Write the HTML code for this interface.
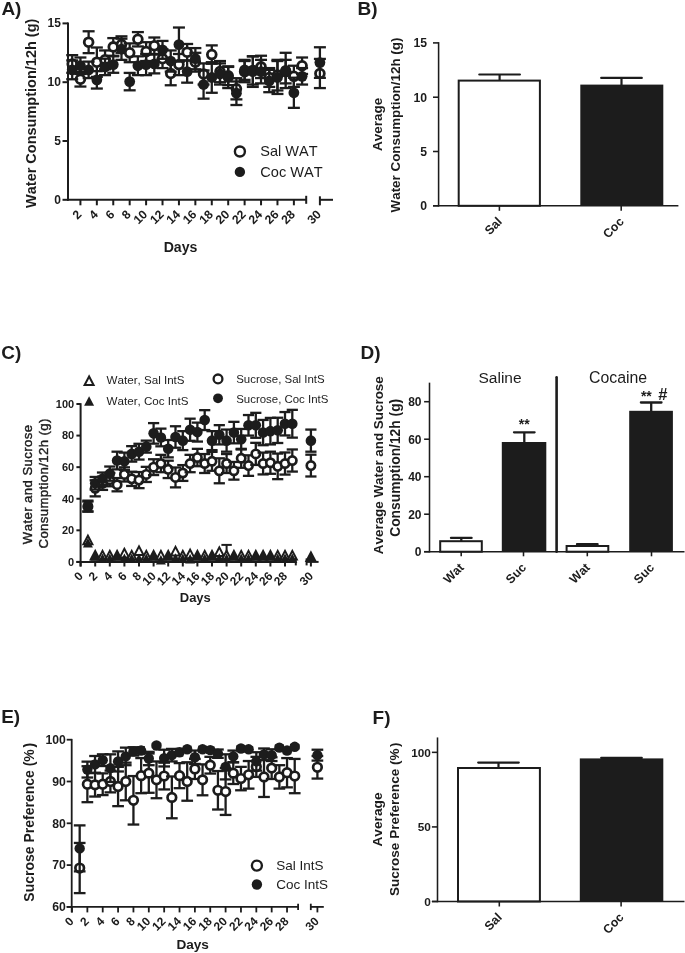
<!DOCTYPE html>
<html><head><meta charset="utf-8"><title>Figure</title>
<style>
html,body{margin:0;padding:0;background:#fff;}
svg{display:block;will-change:transform;}
text{font-family:"Liberation Sans",sans-serif;fill:#1c1c1c;font-kerning:none;}
</style></head>
<body>
<svg width="685" height="953" viewBox="0 0 685 953">
<rect x="0" y="0" width="685" height="953" fill="#ffffff"/>
<text x="1.40" y="14.90" font-size="19" font-weight="bold" text-anchor="start">A)</text>
<line x1="68.00" y1="22.60" x2="68.00" y2="200.80" stroke="#1c1c1c" stroke-width="2.0" stroke-linecap="butt"/>
<line x1="67.00" y1="199.80" x2="306.20" y2="199.80" stroke="#1c1c1c" stroke-width="2.0" stroke-linecap="butt"/>
<line x1="306.20" y1="195.80" x2="306.20" y2="203.80" stroke="#1c1c1c" stroke-width="2.0" stroke-linecap="butt"/>
<line x1="319.90" y1="199.80" x2="333.00" y2="199.80" stroke="#1c1c1c" stroke-width="2.0" stroke-linecap="butt"/>
<line x1="319.90" y1="196.30" x2="319.90" y2="205.30" stroke="#1c1c1c" stroke-width="2.0" stroke-linecap="butt"/>
<line x1="62.50" y1="199.80" x2="68.00" y2="199.80" stroke="#1c1c1c" stroke-width="2.0" stroke-linecap="butt"/>
<text x="60.90" y="203.70" font-size="12" font-weight="bold" text-anchor="end">0</text>
<line x1="62.50" y1="141.00" x2="68.00" y2="141.00" stroke="#1c1c1c" stroke-width="2.0" stroke-linecap="butt"/>
<text x="60.90" y="144.90" font-size="12" font-weight="bold" text-anchor="end">5</text>
<line x1="62.50" y1="82.20" x2="68.00" y2="82.20" stroke="#1c1c1c" stroke-width="2.0" stroke-linecap="butt"/>
<text x="60.90" y="86.10" font-size="12" font-weight="bold" text-anchor="end">10</text>
<line x1="62.50" y1="23.40" x2="68.00" y2="23.40" stroke="#1c1c1c" stroke-width="2.0" stroke-linecap="butt"/>
<text x="60.90" y="27.30" font-size="12" font-weight="bold" text-anchor="end">15</text>
<line x1="80.42" y1="199.80" x2="80.42" y2="205.30" stroke="#1c1c1c" stroke-width="2.0" stroke-linecap="butt"/>
<text x="82.42" y="215.10" font-size="12.2" font-weight="bold" text-anchor="end" transform="rotate(-45 82.42 215.10)">2</text>
<line x1="96.84" y1="199.80" x2="96.84" y2="205.30" stroke="#1c1c1c" stroke-width="2.0" stroke-linecap="butt"/>
<text x="98.84" y="215.10" font-size="12.2" font-weight="bold" text-anchor="end" transform="rotate(-45 98.84 215.10)">4</text>
<line x1="113.26" y1="199.80" x2="113.26" y2="205.30" stroke="#1c1c1c" stroke-width="2.0" stroke-linecap="butt"/>
<text x="115.26" y="215.10" font-size="12.2" font-weight="bold" text-anchor="end" transform="rotate(-45 115.26 215.10)">6</text>
<line x1="129.68" y1="199.80" x2="129.68" y2="205.30" stroke="#1c1c1c" stroke-width="2.0" stroke-linecap="butt"/>
<text x="131.68" y="215.10" font-size="12.2" font-weight="bold" text-anchor="end" transform="rotate(-45 131.68 215.10)">8</text>
<line x1="146.10" y1="199.80" x2="146.10" y2="205.30" stroke="#1c1c1c" stroke-width="2.0" stroke-linecap="butt"/>
<text x="148.10" y="215.10" font-size="12.2" font-weight="bold" text-anchor="end" transform="rotate(-45 148.10 215.10)">10</text>
<line x1="162.52" y1="199.80" x2="162.52" y2="205.30" stroke="#1c1c1c" stroke-width="2.0" stroke-linecap="butt"/>
<text x="164.52" y="215.10" font-size="12.2" font-weight="bold" text-anchor="end" transform="rotate(-45 164.52 215.10)">12</text>
<line x1="178.94" y1="199.80" x2="178.94" y2="205.30" stroke="#1c1c1c" stroke-width="2.0" stroke-linecap="butt"/>
<text x="180.94" y="215.10" font-size="12.2" font-weight="bold" text-anchor="end" transform="rotate(-45 180.94 215.10)">14</text>
<line x1="195.36" y1="199.80" x2="195.36" y2="205.30" stroke="#1c1c1c" stroke-width="2.0" stroke-linecap="butt"/>
<text x="197.36" y="215.10" font-size="12.2" font-weight="bold" text-anchor="end" transform="rotate(-45 197.36 215.10)">16</text>
<line x1="211.78" y1="199.80" x2="211.78" y2="205.30" stroke="#1c1c1c" stroke-width="2.0" stroke-linecap="butt"/>
<text x="213.78" y="215.10" font-size="12.2" font-weight="bold" text-anchor="end" transform="rotate(-45 213.78 215.10)">18</text>
<line x1="228.20" y1="199.80" x2="228.20" y2="205.30" stroke="#1c1c1c" stroke-width="2.0" stroke-linecap="butt"/>
<text x="230.20" y="215.10" font-size="12.2" font-weight="bold" text-anchor="end" transform="rotate(-45 230.20 215.10)">20</text>
<line x1="244.62" y1="199.80" x2="244.62" y2="205.30" stroke="#1c1c1c" stroke-width="2.0" stroke-linecap="butt"/>
<text x="246.62" y="215.10" font-size="12.2" font-weight="bold" text-anchor="end" transform="rotate(-45 246.62 215.10)">22</text>
<line x1="261.04" y1="199.80" x2="261.04" y2="205.30" stroke="#1c1c1c" stroke-width="2.0" stroke-linecap="butt"/>
<text x="263.04" y="215.10" font-size="12.2" font-weight="bold" text-anchor="end" transform="rotate(-45 263.04 215.10)">24</text>
<line x1="277.46" y1="199.80" x2="277.46" y2="205.30" stroke="#1c1c1c" stroke-width="2.0" stroke-linecap="butt"/>
<text x="279.46" y="215.10" font-size="12.2" font-weight="bold" text-anchor="end" transform="rotate(-45 279.46 215.10)">26</text>
<line x1="293.88" y1="199.80" x2="293.88" y2="205.30" stroke="#1c1c1c" stroke-width="2.0" stroke-linecap="butt"/>
<text x="295.88" y="215.10" font-size="12.2" font-weight="bold" text-anchor="end" transform="rotate(-45 295.88 215.10)">28</text>
<text x="321.90" y="215.10" font-size="12.2" font-weight="bold" text-anchor="end" transform="rotate(-45 321.90 215.10)">30</text>
<text x="180.50" y="251.60" font-size="14.1" font-weight="bold" text-anchor="middle">Days</text>
<text x="35.60" y="113.30" font-size="14.5" font-weight="bold" text-anchor="middle" transform="rotate(-90 35.60 113.30)">Water Consumption/12h (g)</text>
<line x1="72.21" y1="55.15" x2="72.21" y2="72.79" stroke="#1c1c1c" stroke-width="2.3" stroke-linecap="butt"/>
<line x1="66.21" y1="55.15" x2="78.21" y2="55.15" stroke="#1c1c1c" stroke-width="2.3" stroke-linecap="butt"/>
<line x1="66.21" y1="72.79" x2="78.21" y2="72.79" stroke="#1c1c1c" stroke-width="2.3" stroke-linecap="butt"/>
<circle cx="72.21" cy="63.97" r="4.4" fill="#fff" stroke="#1c1c1c" stroke-width="2.8"/>
<line x1="80.42" y1="71.97" x2="80.42" y2="86.55" stroke="#1c1c1c" stroke-width="2.3" stroke-linecap="butt"/>
<line x1="74.42" y1="71.97" x2="86.42" y2="71.97" stroke="#1c1c1c" stroke-width="2.3" stroke-linecap="butt"/>
<line x1="74.42" y1="86.55" x2="86.42" y2="86.55" stroke="#1c1c1c" stroke-width="2.3" stroke-linecap="butt"/>
<circle cx="80.42" cy="79.26" r="4.4" fill="#fff" stroke="#1c1c1c" stroke-width="2.8"/>
<line x1="88.63" y1="31.28" x2="88.63" y2="53.15" stroke="#1c1c1c" stroke-width="2.3" stroke-linecap="butt"/>
<line x1="82.63" y1="31.28" x2="94.63" y2="31.28" stroke="#1c1c1c" stroke-width="2.3" stroke-linecap="butt"/>
<line x1="82.63" y1="53.15" x2="94.63" y2="53.15" stroke="#1c1c1c" stroke-width="2.3" stroke-linecap="butt"/>
<circle cx="88.63" cy="42.22" r="4.4" fill="#fff" stroke="#1c1c1c" stroke-width="2.8"/>
<line x1="96.84" y1="47.51" x2="96.84" y2="76.91" stroke="#1c1c1c" stroke-width="2.3" stroke-linecap="butt"/>
<line x1="90.84" y1="47.51" x2="102.84" y2="47.51" stroke="#1c1c1c" stroke-width="2.3" stroke-linecap="butt"/>
<line x1="90.84" y1="76.91" x2="102.84" y2="76.91" stroke="#1c1c1c" stroke-width="2.3" stroke-linecap="butt"/>
<circle cx="96.84" cy="62.21" r="4.4" fill="#fff" stroke="#1c1c1c" stroke-width="2.8"/>
<line x1="105.05" y1="50.45" x2="105.05" y2="69.26" stroke="#1c1c1c" stroke-width="2.3" stroke-linecap="butt"/>
<line x1="99.05" y1="50.45" x2="111.05" y2="50.45" stroke="#1c1c1c" stroke-width="2.3" stroke-linecap="butt"/>
<line x1="99.05" y1="69.26" x2="111.05" y2="69.26" stroke="#1c1c1c" stroke-width="2.3" stroke-linecap="butt"/>
<circle cx="105.05" cy="59.86" r="4.4" fill="#fff" stroke="#1c1c1c" stroke-width="2.8"/>
<line x1="113.26" y1="38.10" x2="113.26" y2="55.74" stroke="#1c1c1c" stroke-width="2.3" stroke-linecap="butt"/>
<line x1="107.26" y1="38.10" x2="119.26" y2="38.10" stroke="#1c1c1c" stroke-width="2.3" stroke-linecap="butt"/>
<line x1="107.26" y1="55.74" x2="119.26" y2="55.74" stroke="#1c1c1c" stroke-width="2.3" stroke-linecap="butt"/>
<circle cx="113.26" cy="46.92" r="4.4" fill="#fff" stroke="#1c1c1c" stroke-width="2.8"/>
<line x1="121.47" y1="36.34" x2="121.47" y2="52.80" stroke="#1c1c1c" stroke-width="2.3" stroke-linecap="butt"/>
<line x1="115.47" y1="36.34" x2="127.47" y2="36.34" stroke="#1c1c1c" stroke-width="2.3" stroke-linecap="butt"/>
<line x1="115.47" y1="52.80" x2="127.47" y2="52.80" stroke="#1c1c1c" stroke-width="2.3" stroke-linecap="butt"/>
<circle cx="121.47" cy="44.57" r="4.4" fill="#fff" stroke="#1c1c1c" stroke-width="2.8"/>
<line x1="129.68" y1="43.39" x2="129.68" y2="62.21" stroke="#1c1c1c" stroke-width="2.3" stroke-linecap="butt"/>
<line x1="123.68" y1="43.39" x2="135.68" y2="43.39" stroke="#1c1c1c" stroke-width="2.3" stroke-linecap="butt"/>
<line x1="123.68" y1="62.21" x2="135.68" y2="62.21" stroke="#1c1c1c" stroke-width="2.3" stroke-linecap="butt"/>
<circle cx="129.68" cy="52.80" r="4.4" fill="#fff" stroke="#1c1c1c" stroke-width="2.8"/>
<line x1="137.89" y1="32.10" x2="137.89" y2="46.45" stroke="#1c1c1c" stroke-width="2.3" stroke-linecap="butt"/>
<line x1="131.89" y1="32.10" x2="143.89" y2="32.10" stroke="#1c1c1c" stroke-width="2.3" stroke-linecap="butt"/>
<line x1="131.89" y1="46.45" x2="143.89" y2="46.45" stroke="#1c1c1c" stroke-width="2.3" stroke-linecap="butt"/>
<circle cx="137.89" cy="39.28" r="4.4" fill="#fff" stroke="#1c1c1c" stroke-width="2.8"/>
<line x1="146.10" y1="42.22" x2="146.10" y2="61.03" stroke="#1c1c1c" stroke-width="2.3" stroke-linecap="butt"/>
<line x1="140.10" y1="42.22" x2="152.10" y2="42.22" stroke="#1c1c1c" stroke-width="2.3" stroke-linecap="butt"/>
<line x1="140.10" y1="61.03" x2="152.10" y2="61.03" stroke="#1c1c1c" stroke-width="2.3" stroke-linecap="butt"/>
<circle cx="146.10" cy="51.62" r="4.4" fill="#fff" stroke="#1c1c1c" stroke-width="2.8"/>
<line x1="154.31" y1="37.51" x2="154.31" y2="53.98" stroke="#1c1c1c" stroke-width="2.3" stroke-linecap="butt"/>
<line x1="148.31" y1="37.51" x2="160.31" y2="37.51" stroke="#1c1c1c" stroke-width="2.3" stroke-linecap="butt"/>
<line x1="148.31" y1="53.98" x2="160.31" y2="53.98" stroke="#1c1c1c" stroke-width="2.3" stroke-linecap="butt"/>
<circle cx="154.31" cy="45.74" r="4.4" fill="#fff" stroke="#1c1c1c" stroke-width="2.8"/>
<line x1="162.52" y1="49.27" x2="162.52" y2="68.09" stroke="#1c1c1c" stroke-width="2.3" stroke-linecap="butt"/>
<line x1="156.52" y1="49.27" x2="168.52" y2="49.27" stroke="#1c1c1c" stroke-width="2.3" stroke-linecap="butt"/>
<line x1="156.52" y1="68.09" x2="168.52" y2="68.09" stroke="#1c1c1c" stroke-width="2.3" stroke-linecap="butt"/>
<circle cx="162.52" cy="58.68" r="4.4" fill="#fff" stroke="#1c1c1c" stroke-width="2.8"/>
<line x1="170.73" y1="61.74" x2="170.73" y2="85.26" stroke="#1c1c1c" stroke-width="2.3" stroke-linecap="butt"/>
<line x1="164.73" y1="61.74" x2="176.73" y2="61.74" stroke="#1c1c1c" stroke-width="2.3" stroke-linecap="butt"/>
<line x1="164.73" y1="85.26" x2="176.73" y2="85.26" stroke="#1c1c1c" stroke-width="2.3" stroke-linecap="butt"/>
<circle cx="170.73" cy="73.50" r="4.4" fill="#fff" stroke="#1c1c1c" stroke-width="2.8"/>
<line x1="178.94" y1="53.98" x2="178.94" y2="75.14" stroke="#1c1c1c" stroke-width="2.3" stroke-linecap="butt"/>
<line x1="172.94" y1="53.98" x2="184.94" y2="53.98" stroke="#1c1c1c" stroke-width="2.3" stroke-linecap="butt"/>
<line x1="172.94" y1="75.14" x2="184.94" y2="75.14" stroke="#1c1c1c" stroke-width="2.3" stroke-linecap="butt"/>
<circle cx="178.94" cy="64.56" r="4.4" fill="#fff" stroke="#1c1c1c" stroke-width="2.8"/>
<line x1="187.15" y1="43.98" x2="187.15" y2="60.44" stroke="#1c1c1c" stroke-width="2.3" stroke-linecap="butt"/>
<line x1="181.15" y1="43.98" x2="193.15" y2="43.98" stroke="#1c1c1c" stroke-width="2.3" stroke-linecap="butt"/>
<line x1="181.15" y1="60.44" x2="193.15" y2="60.44" stroke="#1c1c1c" stroke-width="2.3" stroke-linecap="butt"/>
<circle cx="187.15" cy="52.21" r="4.4" fill="#fff" stroke="#1c1c1c" stroke-width="2.8"/>
<line x1="195.36" y1="52.80" x2="195.36" y2="71.62" stroke="#1c1c1c" stroke-width="2.3" stroke-linecap="butt"/>
<line x1="189.36" y1="52.80" x2="201.36" y2="52.80" stroke="#1c1c1c" stroke-width="2.3" stroke-linecap="butt"/>
<line x1="189.36" y1="71.62" x2="201.36" y2="71.62" stroke="#1c1c1c" stroke-width="2.3" stroke-linecap="butt"/>
<circle cx="195.36" cy="62.21" r="4.4" fill="#fff" stroke="#1c1c1c" stroke-width="2.8"/>
<line x1="203.57" y1="63.38" x2="203.57" y2="84.55" stroke="#1c1c1c" stroke-width="2.3" stroke-linecap="butt"/>
<line x1="197.57" y1="63.38" x2="209.57" y2="63.38" stroke="#1c1c1c" stroke-width="2.3" stroke-linecap="butt"/>
<line x1="197.57" y1="84.55" x2="209.57" y2="84.55" stroke="#1c1c1c" stroke-width="2.3" stroke-linecap="butt"/>
<circle cx="203.57" cy="73.97" r="4.4" fill="#fff" stroke="#1c1c1c" stroke-width="2.8"/>
<line x1="211.78" y1="45.39" x2="211.78" y2="63.74" stroke="#1c1c1c" stroke-width="2.3" stroke-linecap="butt"/>
<line x1="205.78" y1="45.39" x2="217.78" y2="45.39" stroke="#1c1c1c" stroke-width="2.3" stroke-linecap="butt"/>
<line x1="205.78" y1="63.74" x2="217.78" y2="63.74" stroke="#1c1c1c" stroke-width="2.3" stroke-linecap="butt"/>
<circle cx="211.78" cy="54.56" r="4.4" fill="#fff" stroke="#1c1c1c" stroke-width="2.8"/>
<line x1="219.99" y1="61.03" x2="219.99" y2="82.20" stroke="#1c1c1c" stroke-width="2.3" stroke-linecap="butt"/>
<line x1="213.99" y1="61.03" x2="225.99" y2="61.03" stroke="#1c1c1c" stroke-width="2.3" stroke-linecap="butt"/>
<line x1="213.99" y1="82.20" x2="225.99" y2="82.20" stroke="#1c1c1c" stroke-width="2.3" stroke-linecap="butt"/>
<circle cx="219.99" cy="71.62" r="4.4" fill="#fff" stroke="#1c1c1c" stroke-width="2.8"/>
<line x1="228.20" y1="66.32" x2="228.20" y2="85.14" stroke="#1c1c1c" stroke-width="2.3" stroke-linecap="butt"/>
<line x1="222.20" y1="66.32" x2="234.20" y2="66.32" stroke="#1c1c1c" stroke-width="2.3" stroke-linecap="butt"/>
<line x1="222.20" y1="85.14" x2="234.20" y2="85.14" stroke="#1c1c1c" stroke-width="2.3" stroke-linecap="butt"/>
<circle cx="228.20" cy="75.73" r="4.4" fill="#fff" stroke="#1c1c1c" stroke-width="2.8"/>
<line x1="236.41" y1="78.20" x2="236.41" y2="99.37" stroke="#1c1c1c" stroke-width="2.3" stroke-linecap="butt"/>
<line x1="230.41" y1="78.20" x2="242.41" y2="78.20" stroke="#1c1c1c" stroke-width="2.3" stroke-linecap="butt"/>
<line x1="230.41" y1="99.37" x2="242.41" y2="99.37" stroke="#1c1c1c" stroke-width="2.3" stroke-linecap="butt"/>
<circle cx="236.41" cy="88.79" r="4.4" fill="#fff" stroke="#1c1c1c" stroke-width="2.8"/>
<line x1="244.62" y1="61.03" x2="244.62" y2="82.20" stroke="#1c1c1c" stroke-width="2.3" stroke-linecap="butt"/>
<line x1="238.62" y1="61.03" x2="250.62" y2="61.03" stroke="#1c1c1c" stroke-width="2.3" stroke-linecap="butt"/>
<line x1="238.62" y1="82.20" x2="250.62" y2="82.20" stroke="#1c1c1c" stroke-width="2.3" stroke-linecap="butt"/>
<circle cx="244.62" cy="71.62" r="4.4" fill="#fff" stroke="#1c1c1c" stroke-width="2.8"/>
<line x1="252.83" y1="56.33" x2="252.83" y2="84.55" stroke="#1c1c1c" stroke-width="2.3" stroke-linecap="butt"/>
<line x1="246.83" y1="56.33" x2="258.83" y2="56.33" stroke="#1c1c1c" stroke-width="2.3" stroke-linecap="butt"/>
<line x1="246.83" y1="84.55" x2="258.83" y2="84.55" stroke="#1c1c1c" stroke-width="2.3" stroke-linecap="butt"/>
<circle cx="252.83" cy="70.44" r="4.4" fill="#fff" stroke="#1c1c1c" stroke-width="2.8"/>
<line x1="261.04" y1="55.74" x2="261.04" y2="78.08" stroke="#1c1c1c" stroke-width="2.3" stroke-linecap="butt"/>
<line x1="255.04" y1="55.74" x2="267.04" y2="55.74" stroke="#1c1c1c" stroke-width="2.3" stroke-linecap="butt"/>
<line x1="255.04" y1="78.08" x2="267.04" y2="78.08" stroke="#1c1c1c" stroke-width="2.3" stroke-linecap="butt"/>
<circle cx="261.04" cy="66.91" r="4.4" fill="#fff" stroke="#1c1c1c" stroke-width="2.8"/>
<line x1="269.25" y1="68.09" x2="269.25" y2="86.90" stroke="#1c1c1c" stroke-width="2.3" stroke-linecap="butt"/>
<line x1="263.25" y1="68.09" x2="275.25" y2="68.09" stroke="#1c1c1c" stroke-width="2.3" stroke-linecap="butt"/>
<line x1="263.25" y1="86.90" x2="275.25" y2="86.90" stroke="#1c1c1c" stroke-width="2.3" stroke-linecap="butt"/>
<circle cx="269.25" cy="77.50" r="4.4" fill="#fff" stroke="#1c1c1c" stroke-width="2.8"/>
<line x1="277.46" y1="59.86" x2="277.46" y2="90.43" stroke="#1c1c1c" stroke-width="2.3" stroke-linecap="butt"/>
<line x1="271.46" y1="59.86" x2="283.46" y2="59.86" stroke="#1c1c1c" stroke-width="2.3" stroke-linecap="butt"/>
<line x1="271.46" y1="90.43" x2="283.46" y2="90.43" stroke="#1c1c1c" stroke-width="2.3" stroke-linecap="butt"/>
<circle cx="277.46" cy="75.14" r="4.4" fill="#fff" stroke="#1c1c1c" stroke-width="2.8"/>
<line x1="285.67" y1="59.86" x2="285.67" y2="83.38" stroke="#1c1c1c" stroke-width="2.3" stroke-linecap="butt"/>
<line x1="279.67" y1="59.86" x2="291.67" y2="59.86" stroke="#1c1c1c" stroke-width="2.3" stroke-linecap="butt"/>
<line x1="279.67" y1="83.38" x2="291.67" y2="83.38" stroke="#1c1c1c" stroke-width="2.3" stroke-linecap="butt"/>
<circle cx="285.67" cy="71.62" r="4.4" fill="#fff" stroke="#1c1c1c" stroke-width="2.8"/>
<line x1="293.88" y1="65.74" x2="293.88" y2="86.90" stroke="#1c1c1c" stroke-width="2.3" stroke-linecap="butt"/>
<line x1="287.88" y1="65.74" x2="299.88" y2="65.74" stroke="#1c1c1c" stroke-width="2.3" stroke-linecap="butt"/>
<line x1="287.88" y1="86.90" x2="299.88" y2="86.90" stroke="#1c1c1c" stroke-width="2.3" stroke-linecap="butt"/>
<circle cx="293.88" cy="76.32" r="4.4" fill="#fff" stroke="#1c1c1c" stroke-width="2.8"/>
<line x1="302.09" y1="57.50" x2="302.09" y2="73.97" stroke="#1c1c1c" stroke-width="2.3" stroke-linecap="butt"/>
<line x1="296.09" y1="57.50" x2="308.09" y2="57.50" stroke="#1c1c1c" stroke-width="2.3" stroke-linecap="butt"/>
<line x1="296.09" y1="73.97" x2="308.09" y2="73.97" stroke="#1c1c1c" stroke-width="2.3" stroke-linecap="butt"/>
<circle cx="302.09" cy="65.74" r="4.4" fill="#fff" stroke="#1c1c1c" stroke-width="2.8"/>
<line x1="319.90" y1="58.92" x2="319.90" y2="88.08" stroke="#1c1c1c" stroke-width="2.3" stroke-linecap="butt"/>
<line x1="313.90" y1="58.92" x2="325.90" y2="58.92" stroke="#1c1c1c" stroke-width="2.3" stroke-linecap="butt"/>
<line x1="313.90" y1="88.08" x2="325.90" y2="88.08" stroke="#1c1c1c" stroke-width="2.3" stroke-linecap="butt"/>
<circle cx="319.90" cy="73.50" r="4.4" fill="#fff" stroke="#1c1c1c" stroke-width="2.8"/>
<line x1="72.21" y1="60.44" x2="72.21" y2="79.26" stroke="#1c1c1c" stroke-width="2.3" stroke-linecap="butt"/>
<line x1="66.21" y1="60.44" x2="78.21" y2="60.44" stroke="#1c1c1c" stroke-width="2.3" stroke-linecap="butt"/>
<line x1="66.21" y1="79.26" x2="78.21" y2="79.26" stroke="#1c1c1c" stroke-width="2.3" stroke-linecap="butt"/>
<circle cx="72.21" cy="69.85" r="5.4" fill="#1c1c1c"/>
<line x1="80.42" y1="57.50" x2="80.42" y2="73.97" stroke="#1c1c1c" stroke-width="2.3" stroke-linecap="butt"/>
<line x1="74.42" y1="57.50" x2="86.42" y2="57.50" stroke="#1c1c1c" stroke-width="2.3" stroke-linecap="butt"/>
<line x1="74.42" y1="73.97" x2="86.42" y2="73.97" stroke="#1c1c1c" stroke-width="2.3" stroke-linecap="butt"/>
<circle cx="80.42" cy="65.74" r="5.4" fill="#1c1c1c"/>
<line x1="88.63" y1="61.62" x2="88.63" y2="78.08" stroke="#1c1c1c" stroke-width="2.3" stroke-linecap="butt"/>
<line x1="82.63" y1="61.62" x2="94.63" y2="61.62" stroke="#1c1c1c" stroke-width="2.3" stroke-linecap="butt"/>
<line x1="82.63" y1="78.08" x2="94.63" y2="78.08" stroke="#1c1c1c" stroke-width="2.3" stroke-linecap="butt"/>
<circle cx="88.63" cy="69.85" r="5.4" fill="#1c1c1c"/>
<line x1="96.84" y1="71.15" x2="96.84" y2="88.55" stroke="#1c1c1c" stroke-width="2.3" stroke-linecap="butt"/>
<line x1="90.84" y1="71.15" x2="102.84" y2="71.15" stroke="#1c1c1c" stroke-width="2.3" stroke-linecap="butt"/>
<line x1="90.84" y1="88.55" x2="102.84" y2="88.55" stroke="#1c1c1c" stroke-width="2.3" stroke-linecap="butt"/>
<circle cx="96.84" cy="79.85" r="5.4" fill="#1c1c1c"/>
<line x1="105.05" y1="58.68" x2="105.05" y2="75.14" stroke="#1c1c1c" stroke-width="2.3" stroke-linecap="butt"/>
<line x1="99.05" y1="58.68" x2="111.05" y2="58.68" stroke="#1c1c1c" stroke-width="2.3" stroke-linecap="butt"/>
<line x1="99.05" y1="75.14" x2="111.05" y2="75.14" stroke="#1c1c1c" stroke-width="2.3" stroke-linecap="butt"/>
<circle cx="105.05" cy="66.91" r="5.4" fill="#1c1c1c"/>
<line x1="113.26" y1="56.33" x2="113.26" y2="72.79" stroke="#1c1c1c" stroke-width="2.3" stroke-linecap="butt"/>
<line x1="107.26" y1="56.33" x2="119.26" y2="56.33" stroke="#1c1c1c" stroke-width="2.3" stroke-linecap="butt"/>
<line x1="107.26" y1="72.79" x2="119.26" y2="72.79" stroke="#1c1c1c" stroke-width="2.3" stroke-linecap="butt"/>
<circle cx="113.26" cy="64.56" r="5.4" fill="#1c1c1c"/>
<line x1="121.47" y1="38.69" x2="121.47" y2="59.86" stroke="#1c1c1c" stroke-width="2.3" stroke-linecap="butt"/>
<line x1="115.47" y1="38.69" x2="127.47" y2="38.69" stroke="#1c1c1c" stroke-width="2.3" stroke-linecap="butt"/>
<line x1="115.47" y1="59.86" x2="127.47" y2="59.86" stroke="#1c1c1c" stroke-width="2.3" stroke-linecap="butt"/>
<circle cx="121.47" cy="49.27" r="5.4" fill="#1c1c1c"/>
<line x1="129.68" y1="72.91" x2="129.68" y2="90.31" stroke="#1c1c1c" stroke-width="2.3" stroke-linecap="butt"/>
<line x1="123.68" y1="72.91" x2="135.68" y2="72.91" stroke="#1c1c1c" stroke-width="2.3" stroke-linecap="butt"/>
<line x1="123.68" y1="90.31" x2="135.68" y2="90.31" stroke="#1c1c1c" stroke-width="2.3" stroke-linecap="butt"/>
<circle cx="129.68" cy="81.61" r="5.4" fill="#1c1c1c"/>
<line x1="137.89" y1="56.33" x2="137.89" y2="75.14" stroke="#1c1c1c" stroke-width="2.3" stroke-linecap="butt"/>
<line x1="131.89" y1="56.33" x2="143.89" y2="56.33" stroke="#1c1c1c" stroke-width="2.3" stroke-linecap="butt"/>
<line x1="131.89" y1="75.14" x2="143.89" y2="75.14" stroke="#1c1c1c" stroke-width="2.3" stroke-linecap="butt"/>
<circle cx="137.89" cy="65.74" r="5.4" fill="#1c1c1c"/>
<line x1="146.10" y1="53.98" x2="146.10" y2="75.14" stroke="#1c1c1c" stroke-width="2.3" stroke-linecap="butt"/>
<line x1="140.10" y1="53.98" x2="152.10" y2="53.98" stroke="#1c1c1c" stroke-width="2.3" stroke-linecap="butt"/>
<line x1="140.10" y1="75.14" x2="152.10" y2="75.14" stroke="#1c1c1c" stroke-width="2.3" stroke-linecap="butt"/>
<circle cx="146.10" cy="64.56" r="5.4" fill="#1c1c1c"/>
<line x1="154.31" y1="54.56" x2="154.31" y2="73.38" stroke="#1c1c1c" stroke-width="2.3" stroke-linecap="butt"/>
<line x1="148.31" y1="54.56" x2="160.31" y2="54.56" stroke="#1c1c1c" stroke-width="2.3" stroke-linecap="butt"/>
<line x1="148.31" y1="73.38" x2="160.31" y2="73.38" stroke="#1c1c1c" stroke-width="2.3" stroke-linecap="butt"/>
<circle cx="154.31" cy="63.97" r="5.4" fill="#1c1c1c"/>
<line x1="162.52" y1="40.92" x2="162.52" y2="58.80" stroke="#1c1c1c" stroke-width="2.3" stroke-linecap="butt"/>
<line x1="156.52" y1="40.92" x2="168.52" y2="40.92" stroke="#1c1c1c" stroke-width="2.3" stroke-linecap="butt"/>
<line x1="156.52" y1="58.80" x2="168.52" y2="58.80" stroke="#1c1c1c" stroke-width="2.3" stroke-linecap="butt"/>
<circle cx="162.52" cy="49.86" r="5.4" fill="#1c1c1c"/>
<line x1="170.73" y1="50.45" x2="170.73" y2="71.62" stroke="#1c1c1c" stroke-width="2.3" stroke-linecap="butt"/>
<line x1="164.73" y1="50.45" x2="176.73" y2="50.45" stroke="#1c1c1c" stroke-width="2.3" stroke-linecap="butt"/>
<line x1="164.73" y1="71.62" x2="176.73" y2="71.62" stroke="#1c1c1c" stroke-width="2.3" stroke-linecap="butt"/>
<circle cx="170.73" cy="61.03" r="5.4" fill="#1c1c1c"/>
<line x1="178.94" y1="27.52" x2="178.94" y2="61.62" stroke="#1c1c1c" stroke-width="2.3" stroke-linecap="butt"/>
<line x1="172.94" y1="27.52" x2="184.94" y2="27.52" stroke="#1c1c1c" stroke-width="2.3" stroke-linecap="butt"/>
<line x1="172.94" y1="61.62" x2="184.94" y2="61.62" stroke="#1c1c1c" stroke-width="2.3" stroke-linecap="butt"/>
<circle cx="178.94" cy="44.57" r="5.4" fill="#1c1c1c"/>
<line x1="187.15" y1="60.56" x2="187.15" y2="82.67" stroke="#1c1c1c" stroke-width="2.3" stroke-linecap="butt"/>
<line x1="181.15" y1="60.56" x2="193.15" y2="60.56" stroke="#1c1c1c" stroke-width="2.3" stroke-linecap="butt"/>
<line x1="181.15" y1="82.67" x2="193.15" y2="82.67" stroke="#1c1c1c" stroke-width="2.3" stroke-linecap="butt"/>
<circle cx="187.15" cy="71.62" r="5.4" fill="#1c1c1c"/>
<line x1="195.36" y1="48.10" x2="195.36" y2="69.26" stroke="#1c1c1c" stroke-width="2.3" stroke-linecap="butt"/>
<line x1="189.36" y1="48.10" x2="201.36" y2="48.10" stroke="#1c1c1c" stroke-width="2.3" stroke-linecap="butt"/>
<line x1="189.36" y1="69.26" x2="201.36" y2="69.26" stroke="#1c1c1c" stroke-width="2.3" stroke-linecap="butt"/>
<circle cx="195.36" cy="58.68" r="5.4" fill="#1c1c1c"/>
<line x1="203.57" y1="70.44" x2="203.57" y2="98.66" stroke="#1c1c1c" stroke-width="2.3" stroke-linecap="butt"/>
<line x1="197.57" y1="70.44" x2="209.57" y2="70.44" stroke="#1c1c1c" stroke-width="2.3" stroke-linecap="butt"/>
<line x1="197.57" y1="98.66" x2="209.57" y2="98.66" stroke="#1c1c1c" stroke-width="2.3" stroke-linecap="butt"/>
<circle cx="203.57" cy="84.55" r="5.4" fill="#1c1c1c"/>
<line x1="211.78" y1="62.21" x2="211.78" y2="92.78" stroke="#1c1c1c" stroke-width="2.3" stroke-linecap="butt"/>
<line x1="205.78" y1="62.21" x2="217.78" y2="62.21" stroke="#1c1c1c" stroke-width="2.3" stroke-linecap="butt"/>
<line x1="205.78" y1="92.78" x2="217.78" y2="92.78" stroke="#1c1c1c" stroke-width="2.3" stroke-linecap="butt"/>
<circle cx="211.78" cy="77.50" r="5.4" fill="#1c1c1c"/>
<line x1="219.99" y1="63.38" x2="219.99" y2="84.55" stroke="#1c1c1c" stroke-width="2.3" stroke-linecap="butt"/>
<line x1="213.99" y1="63.38" x2="225.99" y2="63.38" stroke="#1c1c1c" stroke-width="2.3" stroke-linecap="butt"/>
<line x1="213.99" y1="84.55" x2="225.99" y2="84.55" stroke="#1c1c1c" stroke-width="2.3" stroke-linecap="butt"/>
<circle cx="219.99" cy="73.97" r="5.4" fill="#1c1c1c"/>
<line x1="228.20" y1="66.91" x2="228.20" y2="88.08" stroke="#1c1c1c" stroke-width="2.3" stroke-linecap="butt"/>
<line x1="222.20" y1="66.91" x2="234.20" y2="66.91" stroke="#1c1c1c" stroke-width="2.3" stroke-linecap="butt"/>
<line x1="222.20" y1="88.08" x2="234.20" y2="88.08" stroke="#1c1c1c" stroke-width="2.3" stroke-linecap="butt"/>
<circle cx="228.20" cy="77.50" r="5.4" fill="#1c1c1c"/>
<line x1="236.41" y1="81.49" x2="236.41" y2="105.01" stroke="#1c1c1c" stroke-width="2.3" stroke-linecap="butt"/>
<line x1="230.41" y1="81.49" x2="242.41" y2="81.49" stroke="#1c1c1c" stroke-width="2.3" stroke-linecap="butt"/>
<line x1="230.41" y1="105.01" x2="242.41" y2="105.01" stroke="#1c1c1c" stroke-width="2.3" stroke-linecap="butt"/>
<circle cx="236.41" cy="93.25" r="5.4" fill="#1c1c1c"/>
<line x1="244.62" y1="59.86" x2="244.62" y2="79.85" stroke="#1c1c1c" stroke-width="2.3" stroke-linecap="butt"/>
<line x1="238.62" y1="59.86" x2="250.62" y2="59.86" stroke="#1c1c1c" stroke-width="2.3" stroke-linecap="butt"/>
<line x1="238.62" y1="79.85" x2="250.62" y2="79.85" stroke="#1c1c1c" stroke-width="2.3" stroke-linecap="butt"/>
<circle cx="244.62" cy="69.85" r="5.4" fill="#1c1c1c"/>
<line x1="252.83" y1="56.33" x2="252.83" y2="86.90" stroke="#1c1c1c" stroke-width="2.3" stroke-linecap="butt"/>
<line x1="246.83" y1="56.33" x2="258.83" y2="56.33" stroke="#1c1c1c" stroke-width="2.3" stroke-linecap="butt"/>
<line x1="246.83" y1="86.90" x2="258.83" y2="86.90" stroke="#1c1c1c" stroke-width="2.3" stroke-linecap="butt"/>
<circle cx="252.83" cy="71.62" r="5.4" fill="#1c1c1c"/>
<line x1="261.04" y1="59.86" x2="261.04" y2="83.38" stroke="#1c1c1c" stroke-width="2.3" stroke-linecap="butt"/>
<line x1="255.04" y1="59.86" x2="267.04" y2="59.86" stroke="#1c1c1c" stroke-width="2.3" stroke-linecap="butt"/>
<line x1="255.04" y1="83.38" x2="267.04" y2="83.38" stroke="#1c1c1c" stroke-width="2.3" stroke-linecap="butt"/>
<circle cx="261.04" cy="71.62" r="5.4" fill="#1c1c1c"/>
<line x1="269.25" y1="69.85" x2="269.25" y2="92.20" stroke="#1c1c1c" stroke-width="2.3" stroke-linecap="butt"/>
<line x1="263.25" y1="69.85" x2="275.25" y2="69.85" stroke="#1c1c1c" stroke-width="2.3" stroke-linecap="butt"/>
<line x1="263.25" y1="92.20" x2="275.25" y2="92.20" stroke="#1c1c1c" stroke-width="2.3" stroke-linecap="butt"/>
<circle cx="269.25" cy="81.02" r="5.4" fill="#1c1c1c"/>
<line x1="277.46" y1="61.03" x2="277.46" y2="93.96" stroke="#1c1c1c" stroke-width="2.3" stroke-linecap="butt"/>
<line x1="271.46" y1="61.03" x2="283.46" y2="61.03" stroke="#1c1c1c" stroke-width="2.3" stroke-linecap="butt"/>
<line x1="271.46" y1="93.96" x2="283.46" y2="93.96" stroke="#1c1c1c" stroke-width="2.3" stroke-linecap="butt"/>
<circle cx="277.46" cy="77.50" r="5.4" fill="#1c1c1c"/>
<line x1="285.67" y1="52.80" x2="285.67" y2="88.08" stroke="#1c1c1c" stroke-width="2.3" stroke-linecap="butt"/>
<line x1="279.67" y1="52.80" x2="291.67" y2="52.80" stroke="#1c1c1c" stroke-width="2.3" stroke-linecap="butt"/>
<line x1="279.67" y1="88.08" x2="291.67" y2="88.08" stroke="#1c1c1c" stroke-width="2.3" stroke-linecap="butt"/>
<circle cx="285.67" cy="70.44" r="5.4" fill="#1c1c1c"/>
<line x1="293.88" y1="77.73" x2="293.88" y2="107.84" stroke="#1c1c1c" stroke-width="2.3" stroke-linecap="butt"/>
<line x1="287.88" y1="77.73" x2="299.88" y2="77.73" stroke="#1c1c1c" stroke-width="2.3" stroke-linecap="butt"/>
<line x1="287.88" y1="107.84" x2="299.88" y2="107.84" stroke="#1c1c1c" stroke-width="2.3" stroke-linecap="butt"/>
<circle cx="293.88" cy="92.78" r="5.4" fill="#1c1c1c"/>
<line x1="302.09" y1="68.09" x2="302.09" y2="84.55" stroke="#1c1c1c" stroke-width="2.3" stroke-linecap="butt"/>
<line x1="296.09" y1="68.09" x2="308.09" y2="68.09" stroke="#1c1c1c" stroke-width="2.3" stroke-linecap="butt"/>
<line x1="296.09" y1="84.55" x2="308.09" y2="84.55" stroke="#1c1c1c" stroke-width="2.3" stroke-linecap="butt"/>
<circle cx="302.09" cy="76.32" r="5.4" fill="#1c1c1c"/>
<line x1="319.90" y1="47.27" x2="319.90" y2="77.85" stroke="#1c1c1c" stroke-width="2.3" stroke-linecap="butt"/>
<line x1="313.90" y1="47.27" x2="325.90" y2="47.27" stroke="#1c1c1c" stroke-width="2.3" stroke-linecap="butt"/>
<line x1="313.90" y1="77.85" x2="325.90" y2="77.85" stroke="#1c1c1c" stroke-width="2.3" stroke-linecap="butt"/>
<circle cx="319.90" cy="62.56" r="5.4" fill="#1c1c1c"/>
<circle cx="239.90" cy="151.50" r="5.0" fill="#fff" stroke="#1c1c1c" stroke-width="2.4"/>
<circle cx="239.90" cy="171.90" r="5.2" fill="#1c1c1c"/>
<text x="260.30" y="156.40" font-size="14.5" font-weight="normal" text-anchor="start">Sal WAT</text>
<text x="260.30" y="176.80" font-size="14.6" font-weight="normal" text-anchor="start">Coc WAT</text>
<text x="357.50" y="15.00" font-size="19" font-weight="bold" text-anchor="start">B)</text>
<line x1="499.60" y1="74.50" x2="499.60" y2="81.60" stroke="#1c1c1c" stroke-width="2.2" stroke-linecap="butt"/>
<line x1="479.30" y1="74.50" x2="519.90" y2="74.50" stroke="#1c1c1c" stroke-width="2.2" stroke-linecap="round"/>
<rect x="458.70" y="80.60" width="81.20" height="125.20" fill="#fff" stroke="#1c1c1c" stroke-width="2.0"/>
<line x1="621.50" y1="77.90" x2="621.50" y2="86.00" stroke="#1c1c1c" stroke-width="2.2" stroke-linecap="butt"/>
<line x1="601.20" y1="77.90" x2="641.80" y2="77.90" stroke="#1c1c1c" stroke-width="2.2" stroke-linecap="round"/>
<rect x="580.30" y="84.60" width="83.00" height="121.20" fill="#1c1c1c"/>
<line x1="438.60" y1="42.13" x2="438.60" y2="206.58" stroke="#1c1c1c" stroke-width="1.55" stroke-linecap="butt"/>
<line x1="433.00" y1="205.80" x2="678.40" y2="205.80" stroke="#1c1c1c" stroke-width="1.55" stroke-linecap="butt"/>
<line x1="433.00" y1="205.80" x2="438.60" y2="205.80" stroke="#1c1c1c" stroke-width="1.55" stroke-linecap="butt"/>
<text x="427.00" y="210.10" font-size="12.2" font-weight="bold" text-anchor="end">0</text>
<line x1="433.00" y1="151.50" x2="438.60" y2="151.50" stroke="#1c1c1c" stroke-width="1.55" stroke-linecap="butt"/>
<text x="427.00" y="155.80" font-size="12.2" font-weight="bold" text-anchor="end">5</text>
<line x1="433.00" y1="97.20" x2="438.60" y2="97.20" stroke="#1c1c1c" stroke-width="1.55" stroke-linecap="butt"/>
<text x="427.00" y="101.50" font-size="12.2" font-weight="bold" text-anchor="end">10</text>
<line x1="433.00" y1="42.90" x2="438.60" y2="42.90" stroke="#1c1c1c" stroke-width="1.55" stroke-linecap="butt"/>
<text x="427.00" y="47.20" font-size="12.2" font-weight="bold" text-anchor="end">15</text>
<line x1="499.40" y1="205.80" x2="499.40" y2="210.80" stroke="#1c1c1c" stroke-width="1.55" stroke-linecap="butt"/>
<text x="502.80" y="222.40" font-size="12.4" font-weight="bold" text-anchor="end" transform="rotate(-45 502.80 222.40)">Sal</text>
<line x1="621.20" y1="205.80" x2="621.20" y2="210.80" stroke="#1c1c1c" stroke-width="1.55" stroke-linecap="butt"/>
<text x="624.60" y="222.40" font-size="12.4" font-weight="bold" text-anchor="end" transform="rotate(-45 624.60 222.40)">Coc</text>
<text x="382.40" y="124.40" font-size="13.5" font-weight="bold" text-anchor="middle" transform="rotate(-90 382.40 124.40)">Average</text>
<text x="399.60" y="125.00" font-size="13.4" font-weight="bold" text-anchor="middle" transform="rotate(-90 399.60 125.00)">Water Consumption/12h (g)</text>
<text x="1.20" y="359.30" font-size="19" font-weight="bold" text-anchor="start">C)</text>
<line x1="80.60" y1="403.20" x2="80.60" y2="566.50" stroke="#1c1c1c" stroke-width="2.0" stroke-linecap="butt"/>
<line x1="76.40" y1="561.90" x2="295.80" y2="561.90" stroke="#1c1c1c" stroke-width="2.0" stroke-linecap="butt"/>
<line x1="295.80" y1="558.40" x2="295.80" y2="565.40" stroke="#1c1c1c" stroke-width="2.0" stroke-linecap="butt"/>
<line x1="306.60" y1="561.90" x2="318.60" y2="561.90" stroke="#1c1c1c" stroke-width="2.0" stroke-linecap="butt"/>
<line x1="306.60" y1="558.40" x2="306.60" y2="565.40" stroke="#1c1c1c" stroke-width="2.0" stroke-linecap="butt"/>
<line x1="310.90" y1="561.90" x2="310.90" y2="566.50" stroke="#1c1c1c" stroke-width="2.0" stroke-linecap="butt"/>
<line x1="76.40" y1="561.90" x2="80.60" y2="561.90" stroke="#1c1c1c" stroke-width="2.0" stroke-linecap="butt"/>
<text x="74.20" y="565.70" font-size="11.0" font-weight="bold" text-anchor="end">0</text>
<line x1="76.40" y1="530.32" x2="80.60" y2="530.32" stroke="#1c1c1c" stroke-width="2.0" stroke-linecap="butt"/>
<text x="74.20" y="534.12" font-size="11.0" font-weight="bold" text-anchor="end">20</text>
<line x1="76.40" y1="498.74" x2="80.60" y2="498.74" stroke="#1c1c1c" stroke-width="2.0" stroke-linecap="butt"/>
<text x="74.20" y="502.54" font-size="11.0" font-weight="bold" text-anchor="end">40</text>
<line x1="76.40" y1="467.16" x2="80.60" y2="467.16" stroke="#1c1c1c" stroke-width="2.0" stroke-linecap="butt"/>
<text x="74.20" y="470.96" font-size="11.0" font-weight="bold" text-anchor="end">60</text>
<line x1="76.40" y1="435.58" x2="80.60" y2="435.58" stroke="#1c1c1c" stroke-width="2.0" stroke-linecap="butt"/>
<text x="74.20" y="439.38" font-size="11.0" font-weight="bold" text-anchor="end">80</text>
<line x1="76.40" y1="404.00" x2="80.60" y2="404.00" stroke="#1c1c1c" stroke-width="2.0" stroke-linecap="butt"/>
<text x="74.20" y="407.80" font-size="11.0" font-weight="bold" text-anchor="end">100</text>
<line x1="80.60" y1="561.90" x2="80.60" y2="566.50" stroke="#1c1c1c" stroke-width="2.0" stroke-linecap="butt"/>
<text x="83.70" y="576.70" font-size="12" font-weight="bold" text-anchor="end" transform="rotate(-45 83.70 576.70)">0</text>
<line x1="95.20" y1="561.90" x2="95.20" y2="566.50" stroke="#1c1c1c" stroke-width="2.0" stroke-linecap="butt"/>
<text x="98.30" y="576.70" font-size="12" font-weight="bold" text-anchor="end" transform="rotate(-45 98.30 576.70)">2</text>
<line x1="109.80" y1="561.90" x2="109.80" y2="566.50" stroke="#1c1c1c" stroke-width="2.0" stroke-linecap="butt"/>
<text x="112.90" y="576.70" font-size="12" font-weight="bold" text-anchor="end" transform="rotate(-45 112.90 576.70)">4</text>
<line x1="124.40" y1="561.90" x2="124.40" y2="566.50" stroke="#1c1c1c" stroke-width="2.0" stroke-linecap="butt"/>
<text x="127.50" y="576.70" font-size="12" font-weight="bold" text-anchor="end" transform="rotate(-45 127.50 576.70)">6</text>
<line x1="139.00" y1="561.90" x2="139.00" y2="566.50" stroke="#1c1c1c" stroke-width="2.0" stroke-linecap="butt"/>
<text x="142.10" y="576.70" font-size="12" font-weight="bold" text-anchor="end" transform="rotate(-45 142.10 576.70)">8</text>
<line x1="153.60" y1="561.90" x2="153.60" y2="566.50" stroke="#1c1c1c" stroke-width="2.0" stroke-linecap="butt"/>
<text x="156.70" y="576.70" font-size="12" font-weight="bold" text-anchor="end" transform="rotate(-45 156.70 576.70)">10</text>
<line x1="168.20" y1="561.90" x2="168.20" y2="566.50" stroke="#1c1c1c" stroke-width="2.0" stroke-linecap="butt"/>
<text x="171.30" y="576.70" font-size="12" font-weight="bold" text-anchor="end" transform="rotate(-45 171.30 576.70)">12</text>
<line x1="182.80" y1="561.90" x2="182.80" y2="566.50" stroke="#1c1c1c" stroke-width="2.0" stroke-linecap="butt"/>
<text x="185.90" y="576.70" font-size="12" font-weight="bold" text-anchor="end" transform="rotate(-45 185.90 576.70)">14</text>
<line x1="197.40" y1="561.90" x2="197.40" y2="566.50" stroke="#1c1c1c" stroke-width="2.0" stroke-linecap="butt"/>
<text x="200.50" y="576.70" font-size="12" font-weight="bold" text-anchor="end" transform="rotate(-45 200.50 576.70)">16</text>
<line x1="212.00" y1="561.90" x2="212.00" y2="566.50" stroke="#1c1c1c" stroke-width="2.0" stroke-linecap="butt"/>
<text x="215.10" y="576.70" font-size="12" font-weight="bold" text-anchor="end" transform="rotate(-45 215.10 576.70)">18</text>
<line x1="226.60" y1="561.90" x2="226.60" y2="566.50" stroke="#1c1c1c" stroke-width="2.0" stroke-linecap="butt"/>
<text x="229.70" y="576.70" font-size="12" font-weight="bold" text-anchor="end" transform="rotate(-45 229.70 576.70)">20</text>
<line x1="241.20" y1="561.90" x2="241.20" y2="566.50" stroke="#1c1c1c" stroke-width="2.0" stroke-linecap="butt"/>
<text x="244.30" y="576.70" font-size="12" font-weight="bold" text-anchor="end" transform="rotate(-45 244.30 576.70)">22</text>
<line x1="255.80" y1="561.90" x2="255.80" y2="566.50" stroke="#1c1c1c" stroke-width="2.0" stroke-linecap="butt"/>
<text x="258.90" y="576.70" font-size="12" font-weight="bold" text-anchor="end" transform="rotate(-45 258.90 576.70)">24</text>
<line x1="270.40" y1="561.90" x2="270.40" y2="566.50" stroke="#1c1c1c" stroke-width="2.0" stroke-linecap="butt"/>
<text x="273.50" y="576.70" font-size="12" font-weight="bold" text-anchor="end" transform="rotate(-45 273.50 576.70)">26</text>
<line x1="285.00" y1="561.90" x2="285.00" y2="566.50" stroke="#1c1c1c" stroke-width="2.0" stroke-linecap="butt"/>
<text x="288.10" y="576.70" font-size="12" font-weight="bold" text-anchor="end" transform="rotate(-45 288.10 576.70)">28</text>
<text x="314.00" y="576.70" font-size="12" font-weight="bold" text-anchor="end" transform="rotate(-45 314.00 576.70)">30</text>
<text x="195.30" y="601.70" font-size="13.0" font-weight="bold" text-anchor="middle">Days</text>
<text x="32.40" y="484.30" font-size="13.1" font-weight="normal" text-anchor="middle" transform="rotate(-90 32.40 484.30)" letter-spacing="0.45" stroke="#1c1c1c" stroke-width="0.4">Water and Sucrose</text>
<text x="48.00" y="483.40" font-size="13.2" font-weight="normal" text-anchor="middle" transform="rotate(-90 48.00 483.40)" letter-spacing="0.37" stroke="#1c1c1c" stroke-width="0.4">Consumption/12h (g)</text>
<polygon points="87.90,535.70 83.40,544.30 92.40,544.30" fill="#fff" stroke="#1c1c1c" stroke-width="2.0" stroke-linejoin="miter"/>
<polygon points="95.20,550.90 90.70,559.50 99.70,559.50" fill="#fff" stroke="#1c1c1c" stroke-width="2.0" stroke-linejoin="miter"/>
<polygon points="102.50,550.90 98.00,559.50 107.00,559.50" fill="#fff" stroke="#1c1c1c" stroke-width="2.0" stroke-linejoin="miter"/>
<polygon points="109.80,550.90 105.30,559.50 114.30,559.50" fill="#fff" stroke="#1c1c1c" stroke-width="2.0" stroke-linejoin="miter"/>
<polygon points="117.10,550.90 112.60,559.50 121.60,559.50" fill="#fff" stroke="#1c1c1c" stroke-width="2.0" stroke-linejoin="miter"/>
<polygon points="124.40,548.80 119.90,557.40 128.90,557.40" fill="#fff" stroke="#1c1c1c" stroke-width="2.0" stroke-linejoin="miter"/>
<polygon points="131.70,550.90 127.20,559.50 136.20,559.50" fill="#fff" stroke="#1c1c1c" stroke-width="2.0" stroke-linejoin="miter"/>
<polygon points="139.00,546.40 134.50,555.00 143.50,555.00" fill="#fff" stroke="#1c1c1c" stroke-width="2.0" stroke-linejoin="miter"/>
<polygon points="146.30,550.90 141.80,559.50 150.80,559.50" fill="#fff" stroke="#1c1c1c" stroke-width="2.0" stroke-linejoin="miter"/>
<polygon points="153.60,550.90 149.10,559.50 158.10,559.50" fill="#fff" stroke="#1c1c1c" stroke-width="2.0" stroke-linejoin="miter"/>
<polygon points="160.90,550.90 156.40,559.50 165.40,559.50" fill="#fff" stroke="#1c1c1c" stroke-width="2.0" stroke-linejoin="miter"/>
<polygon points="168.20,550.90 163.70,559.50 172.70,559.50" fill="#fff" stroke="#1c1c1c" stroke-width="2.0" stroke-linejoin="miter"/>
<polygon points="175.50,546.90 171.00,555.50 180.00,555.50" fill="#fff" stroke="#1c1c1c" stroke-width="2.0" stroke-linejoin="miter"/>
<polygon points="182.80,550.90 178.30,559.50 187.30,559.50" fill="#fff" stroke="#1c1c1c" stroke-width="2.0" stroke-linejoin="miter"/>
<polygon points="190.10,549.60 185.60,558.20 194.60,558.20" fill="#fff" stroke="#1c1c1c" stroke-width="2.0" stroke-linejoin="miter"/>
<polygon points="197.40,550.90 192.90,559.50 201.90,559.50" fill="#fff" stroke="#1c1c1c" stroke-width="2.0" stroke-linejoin="miter"/>
<polygon points="204.70,550.90 200.20,559.50 209.20,559.50" fill="#fff" stroke="#1c1c1c" stroke-width="2.0" stroke-linejoin="miter"/>
<polygon points="212.00,550.90 207.50,559.50 216.50,559.50" fill="#fff" stroke="#1c1c1c" stroke-width="2.0" stroke-linejoin="miter"/>
<polygon points="219.30,547.40 214.80,556.00 223.80,556.00" fill="#fff" stroke="#1c1c1c" stroke-width="2.0" stroke-linejoin="miter"/>
<line x1="226.60" y1="544.90" x2="226.60" y2="551.00" stroke="#1c1c1c" stroke-width="2.0" stroke-linecap="butt"/>
<line x1="221.40" y1="544.90" x2="231.80" y2="544.90" stroke="#1c1c1c" stroke-width="2.0" stroke-linecap="butt"/>
<polygon points="226.60,550.70 222.10,559.30 231.10,559.30" fill="#fff" stroke="#1c1c1c" stroke-width="2.0" stroke-linejoin="miter"/>
<polygon points="233.90,550.90 229.40,559.50 238.40,559.50" fill="#fff" stroke="#1c1c1c" stroke-width="2.0" stroke-linejoin="miter"/>
<polygon points="241.20,550.90 236.70,559.50 245.70,559.50" fill="#fff" stroke="#1c1c1c" stroke-width="2.0" stroke-linejoin="miter"/>
<polygon points="248.50,550.90 244.00,559.50 253.00,559.50" fill="#fff" stroke="#1c1c1c" stroke-width="2.0" stroke-linejoin="miter"/>
<polygon points="255.80,550.90 251.30,559.50 260.30,559.50" fill="#fff" stroke="#1c1c1c" stroke-width="2.0" stroke-linejoin="miter"/>
<polygon points="263.10,550.90 258.60,559.50 267.60,559.50" fill="#fff" stroke="#1c1c1c" stroke-width="2.0" stroke-linejoin="miter"/>
<polygon points="270.40,550.90 265.90,559.50 274.90,559.50" fill="#fff" stroke="#1c1c1c" stroke-width="2.0" stroke-linejoin="miter"/>
<polygon points="277.70,550.90 273.20,559.50 282.20,559.50" fill="#fff" stroke="#1c1c1c" stroke-width="2.0" stroke-linejoin="miter"/>
<polygon points="285.00,550.90 280.50,559.50 289.50,559.50" fill="#fff" stroke="#1c1c1c" stroke-width="2.0" stroke-linejoin="miter"/>
<polygon points="292.30,550.90 287.80,559.50 296.80,559.50" fill="#fff" stroke="#1c1c1c" stroke-width="2.0" stroke-linejoin="miter"/>
<polygon points="310.90,552.50 306.40,561.10 315.40,561.10" fill="#fff" stroke="#1c1c1c" stroke-width="2.0" stroke-linejoin="miter"/>
<polygon points="87.90,538.00 82.90,547.50 92.90,547.50" fill="#1c1c1c"/>
<polygon points="95.20,551.20 90.20,560.70 100.20,560.70" fill="#1c1c1c"/>
<polygon points="102.50,553.60 97.50,563.10 107.50,563.10" fill="#1c1c1c"/>
<polygon points="109.80,553.60 104.80,563.10 114.80,563.10" fill="#1c1c1c"/>
<polygon points="117.10,551.20 112.10,560.70 122.10,560.70" fill="#1c1c1c"/>
<polygon points="124.40,553.60 119.40,563.10 129.40,563.10" fill="#1c1c1c"/>
<polygon points="131.70,553.60 126.70,563.10 136.70,563.10" fill="#1c1c1c"/>
<polygon points="139.00,553.60 134.00,563.10 144.00,563.10" fill="#1c1c1c"/>
<polygon points="146.30,553.60 141.30,563.10 151.30,563.10" fill="#1c1c1c"/>
<polygon points="153.60,551.20 148.60,560.70 158.60,560.70" fill="#1c1c1c"/>
<polygon points="160.90,555.00 155.90,564.50 165.90,564.50" fill="#1c1c1c"/>
<polygon points="168.20,551.20 163.20,560.70 173.20,560.70" fill="#1c1c1c"/>
<polygon points="175.50,553.20 170.50,562.70 180.50,562.70" fill="#1c1c1c"/>
<polygon points="182.80,553.60 177.80,563.10 187.80,563.10" fill="#1c1c1c"/>
<polygon points="190.10,554.00 185.10,563.50 195.10,563.50" fill="#1c1c1c"/>
<polygon points="197.40,551.20 192.40,560.70 202.40,560.70" fill="#1c1c1c"/>
<polygon points="204.70,553.60 199.70,563.10 209.70,563.10" fill="#1c1c1c"/>
<polygon points="212.00,551.20 207.00,560.70 217.00,560.70" fill="#1c1c1c"/>
<polygon points="219.30,553.20 214.30,562.70 224.30,562.70" fill="#1c1c1c"/>
<polygon points="226.60,553.60 221.60,563.10 231.60,563.10" fill="#1c1c1c"/>
<polygon points="233.90,551.20 228.90,560.70 238.90,560.70" fill="#1c1c1c"/>
<polygon points="241.20,553.60 236.20,563.10 246.20,563.10" fill="#1c1c1c"/>
<polygon points="248.50,553.60 243.50,563.10 253.50,563.10" fill="#1c1c1c"/>
<polygon points="255.80,551.20 250.80,560.70 260.80,560.70" fill="#1c1c1c"/>
<polygon points="263.10,551.20 258.10,560.70 268.10,560.70" fill="#1c1c1c"/>
<polygon points="270.40,551.20 265.40,560.70 275.40,560.70" fill="#1c1c1c"/>
<polygon points="277.70,553.60 272.70,563.10 282.70,563.10" fill="#1c1c1c"/>
<polygon points="285.00,553.60 280.00,563.10 290.00,563.10" fill="#1c1c1c"/>
<polygon points="292.30,553.60 287.30,563.10 297.30,563.10" fill="#1c1c1c"/>
<polygon points="310.90,552.40 305.90,561.90 315.90,561.90" fill="#1c1c1c"/>
<line x1="87.90" y1="501.58" x2="87.90" y2="511.69" stroke="#1c1c1c" stroke-width="2.3" stroke-linecap="butt"/>
<line x1="82.30" y1="501.58" x2="93.50" y2="501.58" stroke="#1c1c1c" stroke-width="2.3" stroke-linecap="butt"/>
<line x1="82.30" y1="511.69" x2="93.50" y2="511.69" stroke="#1c1c1c" stroke-width="2.3" stroke-linecap="butt"/>
<circle cx="87.90" cy="506.63" r="4.15" fill="#fff" stroke="#1c1c1c" stroke-width="2.7"/>
<line x1="95.20" y1="480.27" x2="95.20" y2="496.37" stroke="#1c1c1c" stroke-width="2.3" stroke-linecap="butt"/>
<line x1="89.60" y1="480.27" x2="100.80" y2="480.27" stroke="#1c1c1c" stroke-width="2.3" stroke-linecap="butt"/>
<line x1="89.60" y1="496.37" x2="100.80" y2="496.37" stroke="#1c1c1c" stroke-width="2.3" stroke-linecap="butt"/>
<circle cx="95.20" cy="488.32" r="4.15" fill="#fff" stroke="#1c1c1c" stroke-width="2.7"/>
<line x1="102.50" y1="476.63" x2="102.50" y2="489.90" stroke="#1c1c1c" stroke-width="2.3" stroke-linecap="butt"/>
<line x1="96.90" y1="476.63" x2="108.10" y2="476.63" stroke="#1c1c1c" stroke-width="2.3" stroke-linecap="butt"/>
<line x1="96.90" y1="489.90" x2="108.10" y2="489.90" stroke="#1c1c1c" stroke-width="2.3" stroke-linecap="butt"/>
<circle cx="102.50" cy="483.27" r="4.15" fill="#fff" stroke="#1c1c1c" stroke-width="2.7"/>
<line x1="109.80" y1="473.00" x2="109.80" y2="486.27" stroke="#1c1c1c" stroke-width="2.3" stroke-linecap="butt"/>
<line x1="104.20" y1="473.00" x2="115.40" y2="473.00" stroke="#1c1c1c" stroke-width="2.3" stroke-linecap="butt"/>
<line x1="104.20" y1="486.27" x2="115.40" y2="486.27" stroke="#1c1c1c" stroke-width="2.3" stroke-linecap="butt"/>
<circle cx="109.80" cy="479.63" r="4.15" fill="#fff" stroke="#1c1c1c" stroke-width="2.7"/>
<line x1="117.10" y1="478.06" x2="117.10" y2="491.32" stroke="#1c1c1c" stroke-width="2.3" stroke-linecap="butt"/>
<line x1="111.50" y1="478.06" x2="122.70" y2="478.06" stroke="#1c1c1c" stroke-width="2.3" stroke-linecap="butt"/>
<line x1="111.50" y1="491.32" x2="122.70" y2="491.32" stroke="#1c1c1c" stroke-width="2.3" stroke-linecap="butt"/>
<circle cx="117.10" cy="484.69" r="4.15" fill="#fff" stroke="#1c1c1c" stroke-width="2.7"/>
<line x1="124.40" y1="467.32" x2="124.40" y2="481.53" stroke="#1c1c1c" stroke-width="2.3" stroke-linecap="butt"/>
<line x1="118.80" y1="467.32" x2="130.00" y2="467.32" stroke="#1c1c1c" stroke-width="2.3" stroke-linecap="butt"/>
<line x1="118.80" y1="481.53" x2="130.00" y2="481.53" stroke="#1c1c1c" stroke-width="2.3" stroke-linecap="butt"/>
<circle cx="124.40" cy="474.42" r="4.15" fill="#fff" stroke="#1c1c1c" stroke-width="2.7"/>
<line x1="131.70" y1="471.74" x2="131.70" y2="485.95" stroke="#1c1c1c" stroke-width="2.3" stroke-linecap="butt"/>
<line x1="126.10" y1="471.74" x2="137.30" y2="471.74" stroke="#1c1c1c" stroke-width="2.3" stroke-linecap="butt"/>
<line x1="126.10" y1="485.95" x2="137.30" y2="485.95" stroke="#1c1c1c" stroke-width="2.3" stroke-linecap="butt"/>
<circle cx="131.70" cy="478.84" r="4.15" fill="#fff" stroke="#1c1c1c" stroke-width="2.7"/>
<line x1="139.00" y1="472.05" x2="139.00" y2="488.16" stroke="#1c1c1c" stroke-width="2.3" stroke-linecap="butt"/>
<line x1="133.40" y1="472.05" x2="144.60" y2="472.05" stroke="#1c1c1c" stroke-width="2.3" stroke-linecap="butt"/>
<line x1="133.40" y1="488.16" x2="144.60" y2="488.16" stroke="#1c1c1c" stroke-width="2.3" stroke-linecap="butt"/>
<circle cx="139.00" cy="480.11" r="4.15" fill="#fff" stroke="#1c1c1c" stroke-width="2.7"/>
<line x1="146.30" y1="466.84" x2="146.30" y2="482.00" stroke="#1c1c1c" stroke-width="2.3" stroke-linecap="butt"/>
<line x1="140.70" y1="466.84" x2="151.90" y2="466.84" stroke="#1c1c1c" stroke-width="2.3" stroke-linecap="butt"/>
<line x1="140.70" y1="482.00" x2="151.90" y2="482.00" stroke="#1c1c1c" stroke-width="2.3" stroke-linecap="butt"/>
<circle cx="146.30" cy="474.42" r="4.15" fill="#fff" stroke="#1c1c1c" stroke-width="2.7"/>
<line x1="153.60" y1="459.26" x2="153.60" y2="475.05" stroke="#1c1c1c" stroke-width="2.3" stroke-linecap="butt"/>
<line x1="148.00" y1="459.26" x2="159.20" y2="459.26" stroke="#1c1c1c" stroke-width="2.3" stroke-linecap="butt"/>
<line x1="148.00" y1="475.05" x2="159.20" y2="475.05" stroke="#1c1c1c" stroke-width="2.3" stroke-linecap="butt"/>
<circle cx="153.60" cy="467.16" r="4.15" fill="#fff" stroke="#1c1c1c" stroke-width="2.7"/>
<line x1="160.90" y1="454.84" x2="160.90" y2="472.21" stroke="#1c1c1c" stroke-width="2.3" stroke-linecap="butt"/>
<line x1="155.30" y1="454.84" x2="166.50" y2="454.84" stroke="#1c1c1c" stroke-width="2.3" stroke-linecap="butt"/>
<line x1="155.30" y1="472.21" x2="166.50" y2="472.21" stroke="#1c1c1c" stroke-width="2.3" stroke-linecap="butt"/>
<circle cx="160.90" cy="463.53" r="4.15" fill="#fff" stroke="#1c1c1c" stroke-width="2.7"/>
<line x1="168.20" y1="460.69" x2="168.20" y2="478.06" stroke="#1c1c1c" stroke-width="2.3" stroke-linecap="butt"/>
<line x1="162.60" y1="460.69" x2="173.80" y2="460.69" stroke="#1c1c1c" stroke-width="2.3" stroke-linecap="butt"/>
<line x1="162.60" y1="478.06" x2="173.80" y2="478.06" stroke="#1c1c1c" stroke-width="2.3" stroke-linecap="butt"/>
<circle cx="168.20" cy="469.37" r="4.15" fill="#fff" stroke="#1c1c1c" stroke-width="2.7"/>
<line x1="175.50" y1="467.48" x2="175.50" y2="487.37" stroke="#1c1c1c" stroke-width="2.3" stroke-linecap="butt"/>
<line x1="169.90" y1="467.48" x2="181.10" y2="467.48" stroke="#1c1c1c" stroke-width="2.3" stroke-linecap="butt"/>
<line x1="169.90" y1="487.37" x2="181.10" y2="487.37" stroke="#1c1c1c" stroke-width="2.3" stroke-linecap="butt"/>
<circle cx="175.50" cy="477.42" r="4.15" fill="#fff" stroke="#1c1c1c" stroke-width="2.7"/>
<line x1="182.80" y1="465.11" x2="182.80" y2="480.90" stroke="#1c1c1c" stroke-width="2.3" stroke-linecap="butt"/>
<line x1="177.20" y1="465.11" x2="188.40" y2="465.11" stroke="#1c1c1c" stroke-width="2.3" stroke-linecap="butt"/>
<line x1="177.20" y1="480.90" x2="188.40" y2="480.90" stroke="#1c1c1c" stroke-width="2.3" stroke-linecap="butt"/>
<circle cx="182.80" cy="473.00" r="4.15" fill="#fff" stroke="#1c1c1c" stroke-width="2.7"/>
<line x1="190.10" y1="454.84" x2="190.10" y2="472.21" stroke="#1c1c1c" stroke-width="2.3" stroke-linecap="butt"/>
<line x1="184.50" y1="454.84" x2="195.70" y2="454.84" stroke="#1c1c1c" stroke-width="2.3" stroke-linecap="butt"/>
<line x1="184.50" y1="472.21" x2="195.70" y2="472.21" stroke="#1c1c1c" stroke-width="2.3" stroke-linecap="butt"/>
<circle cx="190.10" cy="463.53" r="4.15" fill="#fff" stroke="#1c1c1c" stroke-width="2.7"/>
<line x1="197.40" y1="448.84" x2="197.40" y2="466.21" stroke="#1c1c1c" stroke-width="2.3" stroke-linecap="butt"/>
<line x1="191.80" y1="448.84" x2="203.00" y2="448.84" stroke="#1c1c1c" stroke-width="2.3" stroke-linecap="butt"/>
<line x1="191.80" y1="466.21" x2="203.00" y2="466.21" stroke="#1c1c1c" stroke-width="2.3" stroke-linecap="butt"/>
<circle cx="197.40" cy="457.53" r="4.15" fill="#fff" stroke="#1c1c1c" stroke-width="2.7"/>
<line x1="204.70" y1="454.05" x2="204.70" y2="473.00" stroke="#1c1c1c" stroke-width="2.3" stroke-linecap="butt"/>
<line x1="199.10" y1="454.05" x2="210.30" y2="454.05" stroke="#1c1c1c" stroke-width="2.3" stroke-linecap="butt"/>
<line x1="199.10" y1="473.00" x2="210.30" y2="473.00" stroke="#1c1c1c" stroke-width="2.3" stroke-linecap="butt"/>
<circle cx="204.70" cy="463.53" r="4.15" fill="#fff" stroke="#1c1c1c" stroke-width="2.7"/>
<line x1="212.00" y1="451.84" x2="212.00" y2="470.79" stroke="#1c1c1c" stroke-width="2.3" stroke-linecap="butt"/>
<line x1="206.40" y1="451.84" x2="217.60" y2="451.84" stroke="#1c1c1c" stroke-width="2.3" stroke-linecap="butt"/>
<line x1="206.40" y1="470.79" x2="217.60" y2="470.79" stroke="#1c1c1c" stroke-width="2.3" stroke-linecap="butt"/>
<circle cx="212.00" cy="461.32" r="4.15" fill="#fff" stroke="#1c1c1c" stroke-width="2.7"/>
<line x1="219.30" y1="458.32" x2="219.30" y2="483.27" stroke="#1c1c1c" stroke-width="2.3" stroke-linecap="butt"/>
<line x1="213.70" y1="458.32" x2="224.90" y2="458.32" stroke="#1c1c1c" stroke-width="2.3" stroke-linecap="butt"/>
<line x1="213.70" y1="483.27" x2="224.90" y2="483.27" stroke="#1c1c1c" stroke-width="2.3" stroke-linecap="butt"/>
<circle cx="219.30" cy="470.79" r="4.15" fill="#fff" stroke="#1c1c1c" stroke-width="2.7"/>
<line x1="226.60" y1="454.05" x2="226.60" y2="473.00" stroke="#1c1c1c" stroke-width="2.3" stroke-linecap="butt"/>
<line x1="221.00" y1="454.05" x2="232.20" y2="454.05" stroke="#1c1c1c" stroke-width="2.3" stroke-linecap="butt"/>
<line x1="221.00" y1="473.00" x2="232.20" y2="473.00" stroke="#1c1c1c" stroke-width="2.3" stroke-linecap="butt"/>
<circle cx="226.60" cy="463.53" r="4.15" fill="#fff" stroke="#1c1c1c" stroke-width="2.7"/>
<line x1="233.90" y1="461.95" x2="233.90" y2="479.63" stroke="#1c1c1c" stroke-width="2.3" stroke-linecap="butt"/>
<line x1="228.30" y1="461.95" x2="239.50" y2="461.95" stroke="#1c1c1c" stroke-width="2.3" stroke-linecap="butt"/>
<line x1="228.30" y1="479.63" x2="239.50" y2="479.63" stroke="#1c1c1c" stroke-width="2.3" stroke-linecap="butt"/>
<circle cx="233.90" cy="470.79" r="4.15" fill="#fff" stroke="#1c1c1c" stroke-width="2.7"/>
<line x1="241.20" y1="448.84" x2="241.20" y2="467.79" stroke="#1c1c1c" stroke-width="2.3" stroke-linecap="butt"/>
<line x1="235.60" y1="448.84" x2="246.80" y2="448.84" stroke="#1c1c1c" stroke-width="2.3" stroke-linecap="butt"/>
<line x1="235.60" y1="467.79" x2="246.80" y2="467.79" stroke="#1c1c1c" stroke-width="2.3" stroke-linecap="butt"/>
<circle cx="241.20" cy="458.32" r="4.15" fill="#fff" stroke="#1c1c1c" stroke-width="2.7"/>
<line x1="248.50" y1="455.32" x2="248.50" y2="475.84" stroke="#1c1c1c" stroke-width="2.3" stroke-linecap="butt"/>
<line x1="242.90" y1="455.32" x2="254.10" y2="455.32" stroke="#1c1c1c" stroke-width="2.3" stroke-linecap="butt"/>
<line x1="242.90" y1="475.84" x2="254.10" y2="475.84" stroke="#1c1c1c" stroke-width="2.3" stroke-linecap="butt"/>
<circle cx="248.50" cy="465.58" r="4.15" fill="#fff" stroke="#1c1c1c" stroke-width="2.7"/>
<line x1="255.80" y1="442.84" x2="255.80" y2="464.95" stroke="#1c1c1c" stroke-width="2.3" stroke-linecap="butt"/>
<line x1="250.20" y1="442.84" x2="261.40" y2="442.84" stroke="#1c1c1c" stroke-width="2.3" stroke-linecap="butt"/>
<line x1="250.20" y1="464.95" x2="261.40" y2="464.95" stroke="#1c1c1c" stroke-width="2.3" stroke-linecap="butt"/>
<circle cx="255.80" cy="453.90" r="4.15" fill="#fff" stroke="#1c1c1c" stroke-width="2.7"/>
<line x1="263.10" y1="452.63" x2="263.10" y2="474.42" stroke="#1c1c1c" stroke-width="2.3" stroke-linecap="butt"/>
<line x1="257.50" y1="452.63" x2="268.70" y2="452.63" stroke="#1c1c1c" stroke-width="2.3" stroke-linecap="butt"/>
<line x1="257.50" y1="474.42" x2="268.70" y2="474.42" stroke="#1c1c1c" stroke-width="2.3" stroke-linecap="butt"/>
<circle cx="263.10" cy="463.53" r="4.15" fill="#fff" stroke="#1c1c1c" stroke-width="2.7"/>
<line x1="270.40" y1="451.69" x2="270.40" y2="473.79" stroke="#1c1c1c" stroke-width="2.3" stroke-linecap="butt"/>
<line x1="264.80" y1="451.69" x2="276.00" y2="451.69" stroke="#1c1c1c" stroke-width="2.3" stroke-linecap="butt"/>
<line x1="264.80" y1="473.79" x2="276.00" y2="473.79" stroke="#1c1c1c" stroke-width="2.3" stroke-linecap="butt"/>
<circle cx="270.40" cy="462.74" r="4.15" fill="#fff" stroke="#1c1c1c" stroke-width="2.7"/>
<line x1="277.70" y1="453.58" x2="277.70" y2="479.16" stroke="#1c1c1c" stroke-width="2.3" stroke-linecap="butt"/>
<line x1="272.10" y1="453.58" x2="283.30" y2="453.58" stroke="#1c1c1c" stroke-width="2.3" stroke-linecap="butt"/>
<line x1="272.10" y1="479.16" x2="283.30" y2="479.16" stroke="#1c1c1c" stroke-width="2.3" stroke-linecap="butt"/>
<circle cx="277.70" cy="466.37" r="4.15" fill="#fff" stroke="#1c1c1c" stroke-width="2.7"/>
<line x1="285.00" y1="452.48" x2="285.00" y2="474.58" stroke="#1c1c1c" stroke-width="2.3" stroke-linecap="butt"/>
<line x1="279.40" y1="452.48" x2="290.60" y2="452.48" stroke="#1c1c1c" stroke-width="2.3" stroke-linecap="butt"/>
<line x1="279.40" y1="474.58" x2="290.60" y2="474.58" stroke="#1c1c1c" stroke-width="2.3" stroke-linecap="butt"/>
<circle cx="285.00" cy="463.53" r="4.15" fill="#fff" stroke="#1c1c1c" stroke-width="2.7"/>
<line x1="292.30" y1="449.48" x2="292.30" y2="471.58" stroke="#1c1c1c" stroke-width="2.3" stroke-linecap="butt"/>
<line x1="286.70" y1="449.48" x2="297.90" y2="449.48" stroke="#1c1c1c" stroke-width="2.3" stroke-linecap="butt"/>
<line x1="286.70" y1="471.58" x2="297.90" y2="471.58" stroke="#1c1c1c" stroke-width="2.3" stroke-linecap="butt"/>
<circle cx="292.30" cy="460.53" r="4.15" fill="#fff" stroke="#1c1c1c" stroke-width="2.7"/>
<line x1="310.90" y1="454.69" x2="310.90" y2="476.48" stroke="#1c1c1c" stroke-width="2.3" stroke-linecap="butt"/>
<line x1="305.30" y1="454.69" x2="316.50" y2="454.69" stroke="#1c1c1c" stroke-width="2.3" stroke-linecap="butt"/>
<line x1="305.30" y1="476.48" x2="316.50" y2="476.48" stroke="#1c1c1c" stroke-width="2.3" stroke-linecap="butt"/>
<circle cx="310.90" cy="465.58" r="4.15" fill="#fff" stroke="#1c1c1c" stroke-width="2.7"/>
<line x1="87.90" y1="500.63" x2="87.90" y2="511.37" stroke="#1c1c1c" stroke-width="2.3" stroke-linecap="butt"/>
<line x1="82.30" y1="500.63" x2="93.50" y2="500.63" stroke="#1c1c1c" stroke-width="2.3" stroke-linecap="butt"/>
<line x1="82.30" y1="511.37" x2="93.50" y2="511.37" stroke="#1c1c1c" stroke-width="2.3" stroke-linecap="butt"/>
<circle cx="87.90" cy="506.00" r="5.3" fill="#1c1c1c"/>
<line x1="95.20" y1="476.95" x2="95.20" y2="489.58" stroke="#1c1c1c" stroke-width="2.3" stroke-linecap="butt"/>
<line x1="89.60" y1="476.95" x2="100.80" y2="476.95" stroke="#1c1c1c" stroke-width="2.3" stroke-linecap="butt"/>
<line x1="89.60" y1="489.58" x2="100.80" y2="489.58" stroke="#1c1c1c" stroke-width="2.3" stroke-linecap="butt"/>
<circle cx="95.20" cy="483.27" r="5.3" fill="#1c1c1c"/>
<line x1="102.50" y1="472.53" x2="102.50" y2="485.16" stroke="#1c1c1c" stroke-width="2.3" stroke-linecap="butt"/>
<line x1="96.90" y1="472.53" x2="108.10" y2="472.53" stroke="#1c1c1c" stroke-width="2.3" stroke-linecap="butt"/>
<line x1="96.90" y1="485.16" x2="108.10" y2="485.16" stroke="#1c1c1c" stroke-width="2.3" stroke-linecap="butt"/>
<circle cx="102.50" cy="478.84" r="5.3" fill="#1c1c1c"/>
<line x1="109.80" y1="466.53" x2="109.80" y2="480.74" stroke="#1c1c1c" stroke-width="2.3" stroke-linecap="butt"/>
<line x1="104.20" y1="466.53" x2="115.40" y2="466.53" stroke="#1c1c1c" stroke-width="2.3" stroke-linecap="butt"/>
<line x1="104.20" y1="480.74" x2="115.40" y2="480.74" stroke="#1c1c1c" stroke-width="2.3" stroke-linecap="butt"/>
<circle cx="109.80" cy="473.63" r="5.3" fill="#1c1c1c"/>
<line x1="117.10" y1="451.69" x2="117.10" y2="469.37" stroke="#1c1c1c" stroke-width="2.3" stroke-linecap="butt"/>
<line x1="111.50" y1="451.69" x2="122.70" y2="451.69" stroke="#1c1c1c" stroke-width="2.3" stroke-linecap="butt"/>
<line x1="111.50" y1="469.37" x2="122.70" y2="469.37" stroke="#1c1c1c" stroke-width="2.3" stroke-linecap="butt"/>
<circle cx="117.10" cy="460.53" r="5.3" fill="#1c1c1c"/>
<line x1="124.40" y1="452.63" x2="124.40" y2="470.00" stroke="#1c1c1c" stroke-width="2.3" stroke-linecap="butt"/>
<line x1="118.80" y1="452.63" x2="130.00" y2="452.63" stroke="#1c1c1c" stroke-width="2.3" stroke-linecap="butt"/>
<line x1="118.80" y1="470.00" x2="130.00" y2="470.00" stroke="#1c1c1c" stroke-width="2.3" stroke-linecap="butt"/>
<circle cx="124.40" cy="461.32" r="5.3" fill="#1c1c1c"/>
<line x1="131.70" y1="446.16" x2="131.70" y2="461.63" stroke="#1c1c1c" stroke-width="2.3" stroke-linecap="butt"/>
<line x1="126.10" y1="446.16" x2="137.30" y2="446.16" stroke="#1c1c1c" stroke-width="2.3" stroke-linecap="butt"/>
<line x1="126.10" y1="461.63" x2="137.30" y2="461.63" stroke="#1c1c1c" stroke-width="2.3" stroke-linecap="butt"/>
<circle cx="131.70" cy="453.90" r="5.3" fill="#1c1c1c"/>
<line x1="139.00" y1="443.79" x2="139.00" y2="459.58" stroke="#1c1c1c" stroke-width="2.3" stroke-linecap="butt"/>
<line x1="133.40" y1="443.79" x2="144.60" y2="443.79" stroke="#1c1c1c" stroke-width="2.3" stroke-linecap="butt"/>
<line x1="133.40" y1="459.58" x2="144.60" y2="459.58" stroke="#1c1c1c" stroke-width="2.3" stroke-linecap="butt"/>
<circle cx="139.00" cy="451.69" r="5.3" fill="#1c1c1c"/>
<line x1="146.30" y1="440.63" x2="146.30" y2="452.63" stroke="#1c1c1c" stroke-width="2.3" stroke-linecap="butt"/>
<line x1="140.70" y1="440.63" x2="151.90" y2="440.63" stroke="#1c1c1c" stroke-width="2.3" stroke-linecap="butt"/>
<line x1="140.70" y1="452.63" x2="151.90" y2="452.63" stroke="#1c1c1c" stroke-width="2.3" stroke-linecap="butt"/>
<circle cx="146.30" cy="446.63" r="5.3" fill="#1c1c1c"/>
<line x1="153.60" y1="423.11" x2="153.60" y2="443.63" stroke="#1c1c1c" stroke-width="2.3" stroke-linecap="butt"/>
<line x1="148.00" y1="423.11" x2="159.20" y2="423.11" stroke="#1c1c1c" stroke-width="2.3" stroke-linecap="butt"/>
<line x1="148.00" y1="443.63" x2="159.20" y2="443.63" stroke="#1c1c1c" stroke-width="2.3" stroke-linecap="butt"/>
<circle cx="153.60" cy="433.37" r="5.3" fill="#1c1c1c"/>
<line x1="160.90" y1="428.63" x2="160.90" y2="446.32" stroke="#1c1c1c" stroke-width="2.3" stroke-linecap="butt"/>
<line x1="155.30" y1="428.63" x2="166.50" y2="428.63" stroke="#1c1c1c" stroke-width="2.3" stroke-linecap="butt"/>
<line x1="155.30" y1="446.32" x2="166.50" y2="446.32" stroke="#1c1c1c" stroke-width="2.3" stroke-linecap="butt"/>
<circle cx="160.90" cy="437.47" r="5.3" fill="#1c1c1c"/>
<line x1="168.20" y1="440.00" x2="168.20" y2="457.37" stroke="#1c1c1c" stroke-width="2.3" stroke-linecap="butt"/>
<line x1="162.60" y1="440.00" x2="173.80" y2="440.00" stroke="#1c1c1c" stroke-width="2.3" stroke-linecap="butt"/>
<line x1="162.60" y1="457.37" x2="173.80" y2="457.37" stroke="#1c1c1c" stroke-width="2.3" stroke-linecap="butt"/>
<circle cx="168.20" cy="448.69" r="5.3" fill="#1c1c1c"/>
<line x1="175.50" y1="426.26" x2="175.50" y2="447.74" stroke="#1c1c1c" stroke-width="2.3" stroke-linecap="butt"/>
<line x1="169.90" y1="426.26" x2="181.10" y2="426.26" stroke="#1c1c1c" stroke-width="2.3" stroke-linecap="butt"/>
<line x1="169.90" y1="447.74" x2="181.10" y2="447.74" stroke="#1c1c1c" stroke-width="2.3" stroke-linecap="butt"/>
<circle cx="175.50" cy="437.00" r="5.3" fill="#1c1c1c"/>
<line x1="182.80" y1="431.16" x2="182.80" y2="450.11" stroke="#1c1c1c" stroke-width="2.3" stroke-linecap="butt"/>
<line x1="177.20" y1="431.16" x2="188.40" y2="431.16" stroke="#1c1c1c" stroke-width="2.3" stroke-linecap="butt"/>
<line x1="177.20" y1="450.11" x2="188.40" y2="450.11" stroke="#1c1c1c" stroke-width="2.3" stroke-linecap="butt"/>
<circle cx="182.80" cy="440.63" r="5.3" fill="#1c1c1c"/>
<line x1="190.10" y1="418.68" x2="190.10" y2="440.79" stroke="#1c1c1c" stroke-width="2.3" stroke-linecap="butt"/>
<line x1="184.50" y1="418.68" x2="195.70" y2="418.68" stroke="#1c1c1c" stroke-width="2.3" stroke-linecap="butt"/>
<line x1="184.50" y1="440.79" x2="195.70" y2="440.79" stroke="#1c1c1c" stroke-width="2.3" stroke-linecap="butt"/>
<circle cx="190.10" cy="429.74" r="5.3" fill="#1c1c1c"/>
<line x1="197.40" y1="422.63" x2="197.40" y2="441.58" stroke="#1c1c1c" stroke-width="2.3" stroke-linecap="butt"/>
<line x1="191.80" y1="422.63" x2="203.00" y2="422.63" stroke="#1c1c1c" stroke-width="2.3" stroke-linecap="butt"/>
<line x1="191.80" y1="441.58" x2="203.00" y2="441.58" stroke="#1c1c1c" stroke-width="2.3" stroke-linecap="butt"/>
<circle cx="197.40" cy="432.11" r="5.3" fill="#1c1c1c"/>
<line x1="204.70" y1="410.16" x2="204.70" y2="430.05" stroke="#1c1c1c" stroke-width="2.3" stroke-linecap="butt"/>
<line x1="199.10" y1="410.16" x2="210.30" y2="410.16" stroke="#1c1c1c" stroke-width="2.3" stroke-linecap="butt"/>
<line x1="199.10" y1="430.05" x2="210.30" y2="430.05" stroke="#1c1c1c" stroke-width="2.3" stroke-linecap="butt"/>
<circle cx="204.70" cy="420.11" r="5.3" fill="#1c1c1c"/>
<line x1="212.00" y1="431.16" x2="212.00" y2="450.11" stroke="#1c1c1c" stroke-width="2.3" stroke-linecap="butt"/>
<line x1="206.40" y1="431.16" x2="217.60" y2="431.16" stroke="#1c1c1c" stroke-width="2.3" stroke-linecap="butt"/>
<line x1="206.40" y1="450.11" x2="217.60" y2="450.11" stroke="#1c1c1c" stroke-width="2.3" stroke-linecap="butt"/>
<circle cx="212.00" cy="440.63" r="5.3" fill="#1c1c1c"/>
<line x1="219.30" y1="425.16" x2="219.30" y2="444.42" stroke="#1c1c1c" stroke-width="2.3" stroke-linecap="butt"/>
<line x1="213.70" y1="425.16" x2="224.90" y2="425.16" stroke="#1c1c1c" stroke-width="2.3" stroke-linecap="butt"/>
<line x1="213.70" y1="444.42" x2="224.90" y2="444.42" stroke="#1c1c1c" stroke-width="2.3" stroke-linecap="butt"/>
<circle cx="219.30" cy="434.79" r="5.3" fill="#1c1c1c"/>
<line x1="226.60" y1="429.58" x2="226.60" y2="451.69" stroke="#1c1c1c" stroke-width="2.3" stroke-linecap="butt"/>
<line x1="221.00" y1="429.58" x2="232.20" y2="429.58" stroke="#1c1c1c" stroke-width="2.3" stroke-linecap="butt"/>
<line x1="221.00" y1="451.69" x2="232.20" y2="451.69" stroke="#1c1c1c" stroke-width="2.3" stroke-linecap="butt"/>
<circle cx="226.60" cy="440.63" r="5.3" fill="#1c1c1c"/>
<line x1="233.90" y1="421.84" x2="233.90" y2="443.32" stroke="#1c1c1c" stroke-width="2.3" stroke-linecap="butt"/>
<line x1="228.30" y1="421.84" x2="239.50" y2="421.84" stroke="#1c1c1c" stroke-width="2.3" stroke-linecap="butt"/>
<line x1="228.30" y1="443.32" x2="239.50" y2="443.32" stroke="#1c1c1c" stroke-width="2.3" stroke-linecap="butt"/>
<circle cx="233.90" cy="432.58" r="5.3" fill="#1c1c1c"/>
<line x1="241.20" y1="428.95" x2="241.20" y2="449.48" stroke="#1c1c1c" stroke-width="2.3" stroke-linecap="butt"/>
<line x1="235.60" y1="428.95" x2="246.80" y2="428.95" stroke="#1c1c1c" stroke-width="2.3" stroke-linecap="butt"/>
<line x1="235.60" y1="449.48" x2="246.80" y2="449.48" stroke="#1c1c1c" stroke-width="2.3" stroke-linecap="butt"/>
<circle cx="241.20" cy="439.21" r="5.3" fill="#1c1c1c"/>
<line x1="248.50" y1="415.05" x2="248.50" y2="435.58" stroke="#1c1c1c" stroke-width="2.3" stroke-linecap="butt"/>
<line x1="242.90" y1="415.05" x2="254.10" y2="415.05" stroke="#1c1c1c" stroke-width="2.3" stroke-linecap="butt"/>
<line x1="242.90" y1="435.58" x2="254.10" y2="435.58" stroke="#1c1c1c" stroke-width="2.3" stroke-linecap="butt"/>
<circle cx="248.50" cy="425.32" r="5.3" fill="#1c1c1c"/>
<line x1="255.80" y1="412.84" x2="255.80" y2="437.79" stroke="#1c1c1c" stroke-width="2.3" stroke-linecap="butt"/>
<line x1="250.20" y1="412.84" x2="261.40" y2="412.84" stroke="#1c1c1c" stroke-width="2.3" stroke-linecap="butt"/>
<line x1="250.20" y1="437.79" x2="261.40" y2="437.79" stroke="#1c1c1c" stroke-width="2.3" stroke-linecap="butt"/>
<circle cx="255.80" cy="425.32" r="5.3" fill="#1c1c1c"/>
<line x1="263.10" y1="419.95" x2="263.10" y2="445.21" stroke="#1c1c1c" stroke-width="2.3" stroke-linecap="butt"/>
<line x1="257.50" y1="419.95" x2="268.70" y2="419.95" stroke="#1c1c1c" stroke-width="2.3" stroke-linecap="butt"/>
<line x1="257.50" y1="445.21" x2="268.70" y2="445.21" stroke="#1c1c1c" stroke-width="2.3" stroke-linecap="butt"/>
<circle cx="263.10" cy="432.58" r="5.3" fill="#1c1c1c"/>
<line x1="270.40" y1="417.90" x2="270.40" y2="444.42" stroke="#1c1c1c" stroke-width="2.3" stroke-linecap="butt"/>
<line x1="264.80" y1="417.90" x2="276.00" y2="417.90" stroke="#1c1c1c" stroke-width="2.3" stroke-linecap="butt"/>
<line x1="264.80" y1="444.42" x2="276.00" y2="444.42" stroke="#1c1c1c" stroke-width="2.3" stroke-linecap="butt"/>
<circle cx="270.40" cy="431.16" r="5.3" fill="#1c1c1c"/>
<line x1="277.70" y1="417.74" x2="277.70" y2="443.00" stroke="#1c1c1c" stroke-width="2.3" stroke-linecap="butt"/>
<line x1="272.10" y1="417.74" x2="283.30" y2="417.74" stroke="#1c1c1c" stroke-width="2.3" stroke-linecap="butt"/>
<line x1="272.10" y1="443.00" x2="283.30" y2="443.00" stroke="#1c1c1c" stroke-width="2.3" stroke-linecap="butt"/>
<circle cx="277.70" cy="430.37" r="5.3" fill="#1c1c1c"/>
<line x1="285.00" y1="412.05" x2="285.00" y2="435.42" stroke="#1c1c1c" stroke-width="2.3" stroke-linecap="butt"/>
<line x1="279.40" y1="412.05" x2="290.60" y2="412.05" stroke="#1c1c1c" stroke-width="2.3" stroke-linecap="butt"/>
<line x1="279.40" y1="435.42" x2="290.60" y2="435.42" stroke="#1c1c1c" stroke-width="2.3" stroke-linecap="butt"/>
<circle cx="285.00" cy="423.74" r="5.3" fill="#1c1c1c"/>
<line x1="292.30" y1="409.84" x2="292.30" y2="437.63" stroke="#1c1c1c" stroke-width="2.3" stroke-linecap="butt"/>
<line x1="286.70" y1="409.84" x2="297.90" y2="409.84" stroke="#1c1c1c" stroke-width="2.3" stroke-linecap="butt"/>
<line x1="286.70" y1="437.63" x2="297.90" y2="437.63" stroke="#1c1c1c" stroke-width="2.3" stroke-linecap="butt"/>
<circle cx="292.30" cy="423.74" r="5.3" fill="#1c1c1c"/>
<line x1="310.90" y1="429.58" x2="310.90" y2="451.69" stroke="#1c1c1c" stroke-width="2.3" stroke-linecap="butt"/>
<line x1="305.30" y1="429.58" x2="316.50" y2="429.58" stroke="#1c1c1c" stroke-width="2.3" stroke-linecap="butt"/>
<line x1="305.30" y1="451.69" x2="316.50" y2="451.69" stroke="#1c1c1c" stroke-width="2.3" stroke-linecap="butt"/>
<circle cx="310.90" cy="440.63" r="5.3" fill="#1c1c1c"/>
<polygon points="89.10,376.50 84.60,385.10 93.60,385.10" fill="#fff" stroke="#1c1c1c" stroke-width="2.0" stroke-linejoin="miter"/>
<polygon points="89.10,396.30 84.10,405.80 94.10,405.80" fill="#1c1c1c"/>
<text x="106.60" y="384.40" font-size="11.6" font-weight="normal" text-anchor="start">Water, Sal IntS</text>
<text x="106.60" y="404.80" font-size="11.6" font-weight="normal" text-anchor="start">Water, Coc IntS</text>
<circle cx="218.00" cy="378.90" r="4.4" fill="#fff" stroke="#1c1c1c" stroke-width="2.3"/>
<circle cx="218.00" cy="398.30" r="4.9" fill="#1c1c1c"/>
<text x="236.20" y="382.80" font-size="11.45" font-weight="normal" text-anchor="start">Sucrose, Sal IntS</text>
<text x="236.20" y="402.50" font-size="11.45" font-weight="normal" text-anchor="start">Sucrose, Coc IntS</text>
<text x="360.60" y="359.30" font-size="19" font-weight="bold" text-anchor="start">D)</text>
<line x1="461.30" y1="537.90" x2="461.30" y2="542.20" stroke="#1c1c1c" stroke-width="2.3" stroke-linecap="butt"/>
<line x1="451.00" y1="537.90" x2="471.60" y2="537.90" stroke="#1c1c1c" stroke-width="2.3" stroke-linecap="round"/>
<rect x="440.20" y="541.20" width="41.60" height="10.50" fill="#fff" stroke="#1c1c1c" stroke-width="2.0"/>
<line x1="524.30" y1="432.30" x2="524.30" y2="443.40" stroke="#1c1c1c" stroke-width="2.3" stroke-linecap="butt"/>
<line x1="514.00" y1="432.30" x2="534.60" y2="432.30" stroke="#1c1c1c" stroke-width="2.3" stroke-linecap="round"/>
<rect x="501.80" y="442.00" width="44.50" height="109.70" fill="#1c1c1c"/>
<line x1="587.30" y1="544.20" x2="587.30" y2="547.00" stroke="#1c1c1c" stroke-width="2.3" stroke-linecap="butt"/>
<line x1="577.00" y1="544.20" x2="597.60" y2="544.20" stroke="#1c1c1c" stroke-width="2.3" stroke-linecap="round"/>
<rect x="566.60" y="546.00" width="41.70" height="5.70" fill="#fff" stroke="#1c1c1c" stroke-width="2.0"/>
<line x1="651.20" y1="402.50" x2="651.20" y2="412.00" stroke="#1c1c1c" stroke-width="2.3" stroke-linecap="butt"/>
<line x1="640.90" y1="402.50" x2="661.50" y2="402.50" stroke="#1c1c1c" stroke-width="2.3" stroke-linecap="round"/>
<rect x="629.20" y="410.80" width="43.70" height="140.90" fill="#1c1c1c"/>
<line x1="429.50" y1="382.65" x2="429.50" y2="552.48" stroke="#1c1c1c" stroke-width="1.55" stroke-linecap="butt"/>
<line x1="424.10" y1="551.70" x2="684.50" y2="551.70" stroke="#1c1c1c" stroke-width="1.55" stroke-linecap="butt"/>
<line x1="556.60" y1="377.20" x2="556.60" y2="551.70" stroke="#1c1c1c" stroke-width="2.6" stroke-linecap="round"/>
<line x1="424.10" y1="551.70" x2="429.50" y2="551.70" stroke="#1c1c1c" stroke-width="1.55" stroke-linecap="butt"/>
<text x="421.50" y="556.00" font-size="12.0" font-weight="bold" text-anchor="end">0</text>
<line x1="424.10" y1="514.20" x2="429.50" y2="514.20" stroke="#1c1c1c" stroke-width="1.55" stroke-linecap="butt"/>
<text x="421.50" y="518.50" font-size="12.0" font-weight="bold" text-anchor="end">20</text>
<line x1="424.10" y1="476.70" x2="429.50" y2="476.70" stroke="#1c1c1c" stroke-width="1.55" stroke-linecap="butt"/>
<text x="421.50" y="481.00" font-size="12.0" font-weight="bold" text-anchor="end">40</text>
<line x1="424.10" y1="439.20" x2="429.50" y2="439.20" stroke="#1c1c1c" stroke-width="1.55" stroke-linecap="butt"/>
<text x="421.50" y="443.50" font-size="12.0" font-weight="bold" text-anchor="end">60</text>
<line x1="424.10" y1="401.70" x2="429.50" y2="401.70" stroke="#1c1c1c" stroke-width="1.55" stroke-linecap="butt"/>
<text x="421.50" y="406.00" font-size="12.0" font-weight="bold" text-anchor="end">80</text>
<line x1="461.20" y1="551.70" x2="461.20" y2="556.30" stroke="#1c1c1c" stroke-width="1.55" stroke-linecap="butt"/>
<text x="464.60" y="568.30" font-size="12.4" font-weight="bold" text-anchor="end" transform="rotate(-45 464.60 568.30)">Wat</text>
<line x1="523.50" y1="551.70" x2="523.50" y2="556.30" stroke="#1c1c1c" stroke-width="1.55" stroke-linecap="butt"/>
<text x="526.90" y="568.30" font-size="12.4" font-weight="bold" text-anchor="end" transform="rotate(-45 526.90 568.30)">Suc</text>
<line x1="587.30" y1="551.70" x2="587.30" y2="556.30" stroke="#1c1c1c" stroke-width="1.55" stroke-linecap="butt"/>
<text x="590.70" y="568.30" font-size="12.4" font-weight="bold" text-anchor="end" transform="rotate(-45 590.70 568.30)">Wat</text>
<line x1="651.50" y1="551.70" x2="651.50" y2="556.30" stroke="#1c1c1c" stroke-width="1.55" stroke-linecap="butt"/>
<text x="654.90" y="568.30" font-size="12.4" font-weight="bold" text-anchor="end" transform="rotate(-45 654.90 568.30)">Suc</text>
<text x="478.50" y="383.20" font-size="15.5" font-weight="normal" text-anchor="start">Saline</text>
<text x="589.00" y="383.00" font-size="15.85" font-weight="normal" text-anchor="start">Cocaine</text>
<text x="524.30" y="428.60" font-size="14" font-weight="bold" text-anchor="middle">**</text>
<text x="646.35" y="400.50" font-size="14" font-weight="bold" text-anchor="middle">**</text>
<text x="662.90" y="399.60" font-size="16.5" font-weight="bold" text-anchor="middle">#</text>
<text x="382.90" y="465.20" font-size="13.4" font-weight="bold" text-anchor="middle" transform="rotate(-90 382.90 465.20)">Average Water and Sucrose</text>
<text x="400.00" y="467.80" font-size="13.8" font-weight="bold" text-anchor="middle" transform="rotate(-90 400.00 467.80)">Consumption/12h (g)</text>
<text x="1.20" y="722.50" font-size="19" font-weight="bold" text-anchor="start">E)</text>
<line x1="71.70" y1="738.90" x2="71.70" y2="912.40" stroke="#1c1c1c" stroke-width="1.8" stroke-linecap="butt"/>
<line x1="66.70" y1="906.90" x2="298.10" y2="906.90" stroke="#1c1c1c" stroke-width="1.8" stroke-linecap="butt"/>
<line x1="298.10" y1="903.70" x2="298.10" y2="910.10" stroke="#1c1c1c" stroke-width="1.8" stroke-linecap="butt"/>
<line x1="310.80" y1="906.90" x2="323.80" y2="906.90" stroke="#1c1c1c" stroke-width="1.8" stroke-linecap="butt"/>
<line x1="310.80" y1="903.70" x2="310.80" y2="910.10" stroke="#1c1c1c" stroke-width="1.8" stroke-linecap="butt"/>
<line x1="317.40" y1="906.90" x2="317.40" y2="912.40" stroke="#1c1c1c" stroke-width="1.8" stroke-linecap="butt"/>
<line x1="66.70" y1="906.90" x2="71.70" y2="906.90" stroke="#1c1c1c" stroke-width="1.8" stroke-linecap="butt"/>
<text x="65.80" y="911.20" font-size="12.2" font-weight="bold" text-anchor="end">60</text>
<line x1="66.70" y1="865.10" x2="71.70" y2="865.10" stroke="#1c1c1c" stroke-width="1.8" stroke-linecap="butt"/>
<text x="65.80" y="869.40" font-size="12.2" font-weight="bold" text-anchor="end">70</text>
<line x1="66.70" y1="823.30" x2="71.70" y2="823.30" stroke="#1c1c1c" stroke-width="1.8" stroke-linecap="butt"/>
<text x="65.80" y="827.60" font-size="12.2" font-weight="bold" text-anchor="end">80</text>
<line x1="66.70" y1="781.50" x2="71.70" y2="781.50" stroke="#1c1c1c" stroke-width="1.8" stroke-linecap="butt"/>
<text x="65.80" y="785.80" font-size="12.2" font-weight="bold" text-anchor="end">90</text>
<line x1="66.70" y1="739.70" x2="71.70" y2="739.70" stroke="#1c1c1c" stroke-width="1.8" stroke-linecap="butt"/>
<text x="65.80" y="744.00" font-size="12.2" font-weight="bold" text-anchor="end">100</text>
<line x1="72.00" y1="906.90" x2="72.00" y2="912.40" stroke="#1c1c1c" stroke-width="1.8" stroke-linecap="butt"/>
<text x="74.40" y="922.10" font-size="12" font-weight="bold" text-anchor="end" transform="rotate(-45 74.40 922.10)">0</text>
<line x1="87.36" y1="906.90" x2="87.36" y2="912.40" stroke="#1c1c1c" stroke-width="1.8" stroke-linecap="butt"/>
<text x="89.76" y="922.10" font-size="12" font-weight="bold" text-anchor="end" transform="rotate(-45 89.76 922.10)">2</text>
<line x1="102.72" y1="906.90" x2="102.72" y2="912.40" stroke="#1c1c1c" stroke-width="1.8" stroke-linecap="butt"/>
<text x="105.12" y="922.10" font-size="12" font-weight="bold" text-anchor="end" transform="rotate(-45 105.12 922.10)">4</text>
<line x1="118.08" y1="906.90" x2="118.08" y2="912.40" stroke="#1c1c1c" stroke-width="1.8" stroke-linecap="butt"/>
<text x="120.48" y="922.10" font-size="12" font-weight="bold" text-anchor="end" transform="rotate(-45 120.48 922.10)">6</text>
<line x1="133.44" y1="906.90" x2="133.44" y2="912.40" stroke="#1c1c1c" stroke-width="1.8" stroke-linecap="butt"/>
<text x="135.84" y="922.10" font-size="12" font-weight="bold" text-anchor="end" transform="rotate(-45 135.84 922.10)">8</text>
<line x1="148.80" y1="906.90" x2="148.80" y2="912.40" stroke="#1c1c1c" stroke-width="1.8" stroke-linecap="butt"/>
<text x="151.20" y="922.10" font-size="12" font-weight="bold" text-anchor="end" transform="rotate(-45 151.20 922.10)">10</text>
<line x1="164.16" y1="906.90" x2="164.16" y2="912.40" stroke="#1c1c1c" stroke-width="1.8" stroke-linecap="butt"/>
<text x="166.56" y="922.10" font-size="12" font-weight="bold" text-anchor="end" transform="rotate(-45 166.56 922.10)">12</text>
<line x1="179.52" y1="906.90" x2="179.52" y2="912.40" stroke="#1c1c1c" stroke-width="1.8" stroke-linecap="butt"/>
<text x="181.92" y="922.10" font-size="12" font-weight="bold" text-anchor="end" transform="rotate(-45 181.92 922.10)">14</text>
<line x1="194.88" y1="906.90" x2="194.88" y2="912.40" stroke="#1c1c1c" stroke-width="1.8" stroke-linecap="butt"/>
<text x="197.28" y="922.10" font-size="12" font-weight="bold" text-anchor="end" transform="rotate(-45 197.28 922.10)">16</text>
<line x1="210.24" y1="906.90" x2="210.24" y2="912.40" stroke="#1c1c1c" stroke-width="1.8" stroke-linecap="butt"/>
<text x="212.64" y="922.10" font-size="12" font-weight="bold" text-anchor="end" transform="rotate(-45 212.64 922.10)">18</text>
<line x1="225.60" y1="906.90" x2="225.60" y2="912.40" stroke="#1c1c1c" stroke-width="1.8" stroke-linecap="butt"/>
<text x="228.00" y="922.10" font-size="12" font-weight="bold" text-anchor="end" transform="rotate(-45 228.00 922.10)">20</text>
<line x1="240.96" y1="906.90" x2="240.96" y2="912.40" stroke="#1c1c1c" stroke-width="1.8" stroke-linecap="butt"/>
<text x="243.36" y="922.10" font-size="12" font-weight="bold" text-anchor="end" transform="rotate(-45 243.36 922.10)">22</text>
<line x1="256.32" y1="906.90" x2="256.32" y2="912.40" stroke="#1c1c1c" stroke-width="1.8" stroke-linecap="butt"/>
<text x="258.72" y="922.10" font-size="12" font-weight="bold" text-anchor="end" transform="rotate(-45 258.72 922.10)">24</text>
<line x1="271.68" y1="906.90" x2="271.68" y2="912.40" stroke="#1c1c1c" stroke-width="1.8" stroke-linecap="butt"/>
<text x="274.08" y="922.10" font-size="12" font-weight="bold" text-anchor="end" transform="rotate(-45 274.08 922.10)">26</text>
<line x1="287.04" y1="906.90" x2="287.04" y2="912.40" stroke="#1c1c1c" stroke-width="1.8" stroke-linecap="butt"/>
<text x="289.44" y="922.10" font-size="12" font-weight="bold" text-anchor="end" transform="rotate(-45 289.44 922.10)">28</text>
<text x="319.80" y="922.10" font-size="12" font-weight="bold" text-anchor="end" transform="rotate(-45 319.80 922.10)">30</text>
<text x="192.70" y="948.70" font-size="13.6" font-weight="bold" text-anchor="middle">Days</text>
<text x="33.90" y="822.30" font-size="14.0" font-weight="bold" text-anchor="middle" transform="rotate(-90 33.90 822.30)">Sucrose Preference (%<tspan dx="1.6">)</tspan></text>
<line x1="79.68" y1="842.95" x2="79.68" y2="893.11" stroke="#1c1c1c" stroke-width="2.3" stroke-linecap="butt"/>
<line x1="73.83" y1="842.95" x2="85.53" y2="842.95" stroke="#1c1c1c" stroke-width="2.3" stroke-linecap="butt"/>
<line x1="73.83" y1="893.11" x2="85.53" y2="893.11" stroke="#1c1c1c" stroke-width="2.3" stroke-linecap="butt"/>
<circle cx="79.68" cy="868.03" r="4.3" fill="#fff" stroke="#1c1c1c" stroke-width="2.7"/>
<line x1="87.36" y1="766.24" x2="87.36" y2="802.19" stroke="#1c1c1c" stroke-width="2.3" stroke-linecap="butt"/>
<line x1="81.51" y1="766.24" x2="93.21" y2="766.24" stroke="#1c1c1c" stroke-width="2.3" stroke-linecap="butt"/>
<line x1="81.51" y1="802.19" x2="93.21" y2="802.19" stroke="#1c1c1c" stroke-width="2.3" stroke-linecap="butt"/>
<circle cx="87.36" cy="784.22" r="4.3" fill="#fff" stroke="#1c1c1c" stroke-width="2.7"/>
<line x1="95.04" y1="773.14" x2="95.04" y2="796.55" stroke="#1c1c1c" stroke-width="2.3" stroke-linecap="butt"/>
<line x1="89.19" y1="773.14" x2="100.89" y2="773.14" stroke="#1c1c1c" stroke-width="2.3" stroke-linecap="butt"/>
<line x1="89.19" y1="796.55" x2="100.89" y2="796.55" stroke="#1c1c1c" stroke-width="2.3" stroke-linecap="butt"/>
<circle cx="95.04" cy="784.84" r="4.3" fill="#fff" stroke="#1c1c1c" stroke-width="2.7"/>
<line x1="102.72" y1="773.35" x2="102.72" y2="795.09" stroke="#1c1c1c" stroke-width="2.3" stroke-linecap="butt"/>
<line x1="96.87" y1="773.35" x2="108.57" y2="773.35" stroke="#1c1c1c" stroke-width="2.3" stroke-linecap="butt"/>
<line x1="96.87" y1="795.09" x2="108.57" y2="795.09" stroke="#1c1c1c" stroke-width="2.3" stroke-linecap="butt"/>
<circle cx="102.72" cy="784.22" r="4.3" fill="#fff" stroke="#1c1c1c" stroke-width="2.7"/>
<line x1="110.40" y1="770.63" x2="110.40" y2="792.37" stroke="#1c1c1c" stroke-width="2.3" stroke-linecap="butt"/>
<line x1="104.55" y1="770.63" x2="116.25" y2="770.63" stroke="#1c1c1c" stroke-width="2.3" stroke-linecap="butt"/>
<line x1="104.55" y1="792.37" x2="116.25" y2="792.37" stroke="#1c1c1c" stroke-width="2.3" stroke-linecap="butt"/>
<circle cx="110.40" cy="781.50" r="4.3" fill="#fff" stroke="#1c1c1c" stroke-width="2.7"/>
<line x1="118.08" y1="766.87" x2="118.08" y2="806.16" stroke="#1c1c1c" stroke-width="2.3" stroke-linecap="butt"/>
<line x1="112.23" y1="766.87" x2="123.93" y2="766.87" stroke="#1c1c1c" stroke-width="2.3" stroke-linecap="butt"/>
<line x1="112.23" y1="806.16" x2="123.93" y2="806.16" stroke="#1c1c1c" stroke-width="2.3" stroke-linecap="butt"/>
<circle cx="118.08" cy="786.52" r="4.3" fill="#fff" stroke="#1c1c1c" stroke-width="2.7"/>
<line x1="125.76" y1="762.69" x2="125.76" y2="800.31" stroke="#1c1c1c" stroke-width="2.3" stroke-linecap="butt"/>
<line x1="119.91" y1="762.69" x2="131.61" y2="762.69" stroke="#1c1c1c" stroke-width="2.3" stroke-linecap="butt"/>
<line x1="119.91" y1="800.31" x2="131.61" y2="800.31" stroke="#1c1c1c" stroke-width="2.3" stroke-linecap="butt"/>
<circle cx="125.76" cy="781.50" r="4.3" fill="#fff" stroke="#1c1c1c" stroke-width="2.7"/>
<line x1="133.44" y1="776.07" x2="133.44" y2="824.55" stroke="#1c1c1c" stroke-width="2.3" stroke-linecap="butt"/>
<line x1="127.59" y1="776.07" x2="139.29" y2="776.07" stroke="#1c1c1c" stroke-width="2.3" stroke-linecap="butt"/>
<line x1="127.59" y1="824.55" x2="139.29" y2="824.55" stroke="#1c1c1c" stroke-width="2.3" stroke-linecap="butt"/>
<circle cx="133.44" cy="800.31" r="4.3" fill="#fff" stroke="#1c1c1c" stroke-width="2.7"/>
<line x1="141.12" y1="758.09" x2="141.12" y2="793.20" stroke="#1c1c1c" stroke-width="2.3" stroke-linecap="butt"/>
<line x1="135.27" y1="758.09" x2="146.97" y2="758.09" stroke="#1c1c1c" stroke-width="2.3" stroke-linecap="butt"/>
<line x1="135.27" y1="793.20" x2="146.97" y2="793.20" stroke="#1c1c1c" stroke-width="2.3" stroke-linecap="butt"/>
<circle cx="141.12" cy="775.65" r="4.3" fill="#fff" stroke="#1c1c1c" stroke-width="2.7"/>
<line x1="148.80" y1="753.49" x2="148.80" y2="792.79" stroke="#1c1c1c" stroke-width="2.3" stroke-linecap="butt"/>
<line x1="142.95" y1="753.49" x2="154.65" y2="753.49" stroke="#1c1c1c" stroke-width="2.3" stroke-linecap="butt"/>
<line x1="142.95" y1="792.79" x2="154.65" y2="792.79" stroke="#1c1c1c" stroke-width="2.3" stroke-linecap="butt"/>
<circle cx="148.80" cy="773.14" r="4.3" fill="#fff" stroke="#1c1c1c" stroke-width="2.7"/>
<line x1="156.48" y1="761.44" x2="156.48" y2="798.22" stroke="#1c1c1c" stroke-width="2.3" stroke-linecap="butt"/>
<line x1="150.63" y1="761.44" x2="162.33" y2="761.44" stroke="#1c1c1c" stroke-width="2.3" stroke-linecap="butt"/>
<line x1="150.63" y1="798.22" x2="162.33" y2="798.22" stroke="#1c1c1c" stroke-width="2.3" stroke-linecap="butt"/>
<circle cx="156.48" cy="779.83" r="4.3" fill="#fff" stroke="#1c1c1c" stroke-width="2.7"/>
<line x1="164.16" y1="762.69" x2="164.16" y2="789.44" stroke="#1c1c1c" stroke-width="2.3" stroke-linecap="butt"/>
<line x1="158.31" y1="762.69" x2="170.01" y2="762.69" stroke="#1c1c1c" stroke-width="2.3" stroke-linecap="butt"/>
<line x1="158.31" y1="789.44" x2="170.01" y2="789.44" stroke="#1c1c1c" stroke-width="2.3" stroke-linecap="butt"/>
<circle cx="164.16" cy="776.07" r="4.3" fill="#fff" stroke="#1c1c1c" stroke-width="2.7"/>
<line x1="171.84" y1="776.48" x2="171.84" y2="818.28" stroke="#1c1c1c" stroke-width="2.3" stroke-linecap="butt"/>
<line x1="165.99" y1="776.48" x2="177.69" y2="776.48" stroke="#1c1c1c" stroke-width="2.3" stroke-linecap="butt"/>
<line x1="165.99" y1="818.28" x2="177.69" y2="818.28" stroke="#1c1c1c" stroke-width="2.3" stroke-linecap="butt"/>
<circle cx="171.84" cy="797.38" r="4.3" fill="#fff" stroke="#1c1c1c" stroke-width="2.7"/>
<line x1="179.52" y1="763.11" x2="179.52" y2="788.19" stroke="#1c1c1c" stroke-width="2.3" stroke-linecap="butt"/>
<line x1="173.67" y1="763.11" x2="185.37" y2="763.11" stroke="#1c1c1c" stroke-width="2.3" stroke-linecap="butt"/>
<line x1="173.67" y1="788.19" x2="185.37" y2="788.19" stroke="#1c1c1c" stroke-width="2.3" stroke-linecap="butt"/>
<circle cx="179.52" cy="775.65" r="4.3" fill="#fff" stroke="#1c1c1c" stroke-width="2.7"/>
<line x1="187.20" y1="762.27" x2="187.20" y2="800.73" stroke="#1c1c1c" stroke-width="2.3" stroke-linecap="butt"/>
<line x1="181.35" y1="762.27" x2="193.05" y2="762.27" stroke="#1c1c1c" stroke-width="2.3" stroke-linecap="butt"/>
<line x1="181.35" y1="800.73" x2="193.05" y2="800.73" stroke="#1c1c1c" stroke-width="2.3" stroke-linecap="butt"/>
<circle cx="187.20" cy="781.50" r="4.3" fill="#fff" stroke="#1c1c1c" stroke-width="2.7"/>
<line x1="194.88" y1="758.93" x2="194.88" y2="778.99" stroke="#1c1c1c" stroke-width="2.3" stroke-linecap="butt"/>
<line x1="189.03" y1="758.93" x2="200.73" y2="758.93" stroke="#1c1c1c" stroke-width="2.3" stroke-linecap="butt"/>
<line x1="189.03" y1="778.99" x2="200.73" y2="778.99" stroke="#1c1c1c" stroke-width="2.3" stroke-linecap="butt"/>
<circle cx="194.88" cy="768.96" r="4.3" fill="#fff" stroke="#1c1c1c" stroke-width="2.7"/>
<line x1="202.56" y1="764.36" x2="202.56" y2="795.29" stroke="#1c1c1c" stroke-width="2.3" stroke-linecap="butt"/>
<line x1="196.71" y1="764.36" x2="208.41" y2="764.36" stroke="#1c1c1c" stroke-width="2.3" stroke-linecap="butt"/>
<line x1="196.71" y1="795.29" x2="208.41" y2="795.29" stroke="#1c1c1c" stroke-width="2.3" stroke-linecap="butt"/>
<circle cx="202.56" cy="779.83" r="4.3" fill="#fff" stroke="#1c1c1c" stroke-width="2.7"/>
<line x1="210.24" y1="756.84" x2="210.24" y2="773.56" stroke="#1c1c1c" stroke-width="2.3" stroke-linecap="butt"/>
<line x1="204.39" y1="756.84" x2="216.09" y2="756.84" stroke="#1c1c1c" stroke-width="2.3" stroke-linecap="butt"/>
<line x1="204.39" y1="773.56" x2="216.09" y2="773.56" stroke="#1c1c1c" stroke-width="2.3" stroke-linecap="butt"/>
<circle cx="210.24" cy="765.20" r="4.3" fill="#fff" stroke="#1c1c1c" stroke-width="2.7"/>
<line x1="217.92" y1="771.05" x2="217.92" y2="809.51" stroke="#1c1c1c" stroke-width="2.3" stroke-linecap="butt"/>
<line x1="212.07" y1="771.05" x2="223.77" y2="771.05" stroke="#1c1c1c" stroke-width="2.3" stroke-linecap="butt"/>
<line x1="212.07" y1="809.51" x2="223.77" y2="809.51" stroke="#1c1c1c" stroke-width="2.3" stroke-linecap="butt"/>
<circle cx="217.92" cy="790.28" r="4.3" fill="#fff" stroke="#1c1c1c" stroke-width="2.7"/>
<line x1="225.60" y1="768.12" x2="225.60" y2="814.94" stroke="#1c1c1c" stroke-width="2.3" stroke-linecap="butt"/>
<line x1="219.75" y1="768.12" x2="231.45" y2="768.12" stroke="#1c1c1c" stroke-width="2.3" stroke-linecap="butt"/>
<line x1="219.75" y1="814.94" x2="231.45" y2="814.94" stroke="#1c1c1c" stroke-width="2.3" stroke-linecap="butt"/>
<circle cx="225.60" cy="791.53" r="4.3" fill="#fff" stroke="#1c1c1c" stroke-width="2.7"/>
<line x1="233.28" y1="762.27" x2="233.28" y2="784.01" stroke="#1c1c1c" stroke-width="2.3" stroke-linecap="butt"/>
<line x1="227.43" y1="762.27" x2="239.13" y2="762.27" stroke="#1c1c1c" stroke-width="2.3" stroke-linecap="butt"/>
<line x1="227.43" y1="784.01" x2="239.13" y2="784.01" stroke="#1c1c1c" stroke-width="2.3" stroke-linecap="butt"/>
<circle cx="233.28" cy="773.14" r="4.3" fill="#fff" stroke="#1c1c1c" stroke-width="2.7"/>
<line x1="240.96" y1="766.87" x2="240.96" y2="790.28" stroke="#1c1c1c" stroke-width="2.3" stroke-linecap="butt"/>
<line x1="235.11" y1="766.87" x2="246.81" y2="766.87" stroke="#1c1c1c" stroke-width="2.3" stroke-linecap="butt"/>
<line x1="235.11" y1="790.28" x2="246.81" y2="790.28" stroke="#1c1c1c" stroke-width="2.3" stroke-linecap="butt"/>
<circle cx="240.96" cy="778.57" r="4.3" fill="#fff" stroke="#1c1c1c" stroke-width="2.7"/>
<line x1="248.64" y1="761.02" x2="248.64" y2="788.61" stroke="#1c1c1c" stroke-width="2.3" stroke-linecap="butt"/>
<line x1="242.79" y1="761.02" x2="254.49" y2="761.02" stroke="#1c1c1c" stroke-width="2.3" stroke-linecap="butt"/>
<line x1="242.79" y1="788.61" x2="254.49" y2="788.61" stroke="#1c1c1c" stroke-width="2.3" stroke-linecap="butt"/>
<circle cx="248.64" cy="774.81" r="4.3" fill="#fff" stroke="#1c1c1c" stroke-width="2.7"/>
<line x1="256.32" y1="756.84" x2="256.32" y2="776.90" stroke="#1c1c1c" stroke-width="2.3" stroke-linecap="butt"/>
<line x1="250.47" y1="756.84" x2="262.17" y2="756.84" stroke="#1c1c1c" stroke-width="2.3" stroke-linecap="butt"/>
<line x1="250.47" y1="776.90" x2="262.17" y2="776.90" stroke="#1c1c1c" stroke-width="2.3" stroke-linecap="butt"/>
<circle cx="256.32" cy="766.87" r="4.3" fill="#fff" stroke="#1c1c1c" stroke-width="2.7"/>
<line x1="264.00" y1="756.84" x2="264.00" y2="796.97" stroke="#1c1c1c" stroke-width="2.3" stroke-linecap="butt"/>
<line x1="258.15" y1="756.84" x2="269.85" y2="756.84" stroke="#1c1c1c" stroke-width="2.3" stroke-linecap="butt"/>
<line x1="258.15" y1="796.97" x2="269.85" y2="796.97" stroke="#1c1c1c" stroke-width="2.3" stroke-linecap="butt"/>
<circle cx="264.00" cy="776.90" r="4.3" fill="#fff" stroke="#1c1c1c" stroke-width="2.7"/>
<line x1="271.68" y1="757.26" x2="271.68" y2="778.99" stroke="#1c1c1c" stroke-width="2.3" stroke-linecap="butt"/>
<line x1="265.83" y1="757.26" x2="277.53" y2="757.26" stroke="#1c1c1c" stroke-width="2.3" stroke-linecap="butt"/>
<line x1="265.83" y1="778.99" x2="277.53" y2="778.99" stroke="#1c1c1c" stroke-width="2.3" stroke-linecap="butt"/>
<circle cx="271.68" cy="768.12" r="4.3" fill="#fff" stroke="#1c1c1c" stroke-width="2.7"/>
<line x1="279.36" y1="765.20" x2="279.36" y2="788.61" stroke="#1c1c1c" stroke-width="2.3" stroke-linecap="butt"/>
<line x1="273.51" y1="765.20" x2="285.21" y2="765.20" stroke="#1c1c1c" stroke-width="2.3" stroke-linecap="butt"/>
<line x1="273.51" y1="788.61" x2="285.21" y2="788.61" stroke="#1c1c1c" stroke-width="2.3" stroke-linecap="butt"/>
<circle cx="279.36" cy="776.90" r="4.3" fill="#fff" stroke="#1c1c1c" stroke-width="2.7"/>
<line x1="287.04" y1="758.09" x2="287.04" y2="787.35" stroke="#1c1c1c" stroke-width="2.3" stroke-linecap="butt"/>
<line x1="281.19" y1="758.09" x2="292.89" y2="758.09" stroke="#1c1c1c" stroke-width="2.3" stroke-linecap="butt"/>
<line x1="281.19" y1="787.35" x2="292.89" y2="787.35" stroke="#1c1c1c" stroke-width="2.3" stroke-linecap="butt"/>
<circle cx="287.04" cy="772.72" r="4.3" fill="#fff" stroke="#1c1c1c" stroke-width="2.7"/>
<line x1="294.72" y1="758.93" x2="294.72" y2="793.20" stroke="#1c1c1c" stroke-width="2.3" stroke-linecap="butt"/>
<line x1="288.87" y1="758.93" x2="300.57" y2="758.93" stroke="#1c1c1c" stroke-width="2.3" stroke-linecap="butt"/>
<line x1="288.87" y1="793.20" x2="300.57" y2="793.20" stroke="#1c1c1c" stroke-width="2.3" stroke-linecap="butt"/>
<circle cx="294.72" cy="776.07" r="4.3" fill="#fff" stroke="#1c1c1c" stroke-width="2.7"/>
<line x1="317.40" y1="756.00" x2="317.40" y2="778.57" stroke="#1c1c1c" stroke-width="2.3" stroke-linecap="butt"/>
<line x1="311.55" y1="756.00" x2="323.25" y2="756.00" stroke="#1c1c1c" stroke-width="2.3" stroke-linecap="butt"/>
<line x1="311.55" y1="778.57" x2="323.25" y2="778.57" stroke="#1c1c1c" stroke-width="2.3" stroke-linecap="butt"/>
<circle cx="317.40" cy="767.29" r="4.3" fill="#fff" stroke="#1c1c1c" stroke-width="2.7"/>
<line x1="79.68" y1="825.39" x2="79.68" y2="871.37" stroke="#1c1c1c" stroke-width="2.3" stroke-linecap="butt"/>
<line x1="73.83" y1="825.39" x2="85.53" y2="825.39" stroke="#1c1c1c" stroke-width="2.3" stroke-linecap="butt"/>
<line x1="73.83" y1="871.37" x2="85.53" y2="871.37" stroke="#1c1c1c" stroke-width="2.3" stroke-linecap="butt"/>
<circle cx="79.68" cy="848.38" r="5.2" fill="#1c1c1c"/>
<line x1="87.36" y1="761.64" x2="87.36" y2="777.53" stroke="#1c1c1c" stroke-width="2.3" stroke-linecap="butt"/>
<line x1="81.51" y1="761.64" x2="93.21" y2="761.64" stroke="#1c1c1c" stroke-width="2.3" stroke-linecap="butt"/>
<line x1="81.51" y1="777.53" x2="93.21" y2="777.53" stroke="#1c1c1c" stroke-width="2.3" stroke-linecap="butt"/>
<circle cx="87.36" cy="769.59" r="5.2" fill="#1c1c1c"/>
<line x1="95.04" y1="756.00" x2="95.04" y2="772.72" stroke="#1c1c1c" stroke-width="2.3" stroke-linecap="butt"/>
<line x1="89.19" y1="756.00" x2="100.89" y2="756.00" stroke="#1c1c1c" stroke-width="2.3" stroke-linecap="butt"/>
<line x1="89.19" y1="772.72" x2="100.89" y2="772.72" stroke="#1c1c1c" stroke-width="2.3" stroke-linecap="butt"/>
<circle cx="95.04" cy="764.36" r="5.2" fill="#1c1c1c"/>
<line x1="102.72" y1="754.33" x2="102.72" y2="766.03" stroke="#1c1c1c" stroke-width="2.3" stroke-linecap="butt"/>
<line x1="96.87" y1="754.33" x2="108.57" y2="754.33" stroke="#1c1c1c" stroke-width="2.3" stroke-linecap="butt"/>
<line x1="96.87" y1="766.03" x2="108.57" y2="766.03" stroke="#1c1c1c" stroke-width="2.3" stroke-linecap="butt"/>
<circle cx="102.72" cy="760.18" r="5.2" fill="#1c1c1c"/>
<line x1="110.40" y1="754.33" x2="110.40" y2="781.92" stroke="#1c1c1c" stroke-width="2.3" stroke-linecap="butt"/>
<line x1="104.55" y1="754.33" x2="116.25" y2="754.33" stroke="#1c1c1c" stroke-width="2.3" stroke-linecap="butt"/>
<line x1="104.55" y1="781.92" x2="116.25" y2="781.92" stroke="#1c1c1c" stroke-width="2.3" stroke-linecap="butt"/>
<circle cx="110.40" cy="768.12" r="5.2" fill="#1c1c1c"/>
<line x1="118.08" y1="751.40" x2="118.08" y2="771.47" stroke="#1c1c1c" stroke-width="2.3" stroke-linecap="butt"/>
<line x1="112.23" y1="751.40" x2="123.93" y2="751.40" stroke="#1c1c1c" stroke-width="2.3" stroke-linecap="butt"/>
<line x1="112.23" y1="771.47" x2="123.93" y2="771.47" stroke="#1c1c1c" stroke-width="2.3" stroke-linecap="butt"/>
<circle cx="118.08" cy="761.44" r="5.2" fill="#1c1c1c"/>
<line x1="125.76" y1="747.64" x2="125.76" y2="765.20" stroke="#1c1c1c" stroke-width="2.3" stroke-linecap="butt"/>
<line x1="119.91" y1="747.64" x2="131.61" y2="747.64" stroke="#1c1c1c" stroke-width="2.3" stroke-linecap="butt"/>
<line x1="119.91" y1="765.20" x2="131.61" y2="765.20" stroke="#1c1c1c" stroke-width="2.3" stroke-linecap="butt"/>
<circle cx="125.76" cy="756.42" r="5.2" fill="#1c1c1c"/>
<line x1="133.44" y1="747.22" x2="133.44" y2="755.58" stroke="#1c1c1c" stroke-width="2.3" stroke-linecap="butt"/>
<line x1="127.59" y1="747.22" x2="139.29" y2="747.22" stroke="#1c1c1c" stroke-width="2.3" stroke-linecap="butt"/>
<line x1="127.59" y1="755.58" x2="139.29" y2="755.58" stroke="#1c1c1c" stroke-width="2.3" stroke-linecap="butt"/>
<circle cx="133.44" cy="751.40" r="5.2" fill="#1c1c1c"/>
<line x1="141.12" y1="747.22" x2="141.12" y2="753.91" stroke="#1c1c1c" stroke-width="2.3" stroke-linecap="butt"/>
<line x1="137.34" y1="747.22" x2="144.90" y2="747.22" stroke="#1c1c1c" stroke-width="2.3" stroke-linecap="butt"/>
<line x1="137.34" y1="753.91" x2="144.90" y2="753.91" stroke="#1c1c1c" stroke-width="2.3" stroke-linecap="butt"/>
<circle cx="141.12" cy="750.57" r="5.2" fill="#1c1c1c"/>
<line x1="148.80" y1="751.82" x2="148.80" y2="765.20" stroke="#1c1c1c" stroke-width="2.3" stroke-linecap="butt"/>
<line x1="142.95" y1="751.82" x2="154.65" y2="751.82" stroke="#1c1c1c" stroke-width="2.3" stroke-linecap="butt"/>
<line x1="142.95" y1="765.20" x2="154.65" y2="765.20" stroke="#1c1c1c" stroke-width="2.3" stroke-linecap="butt"/>
<circle cx="148.80" cy="758.51" r="5.2" fill="#1c1c1c"/>
<line x1="156.48" y1="743.88" x2="156.48" y2="747.22" stroke="#1c1c1c" stroke-width="2.3" stroke-linecap="butt"/>
<line x1="151.76" y1="743.88" x2="161.20" y2="743.88" stroke="#1c1c1c" stroke-width="2.3" stroke-linecap="butt"/>
<line x1="151.76" y1="747.22" x2="161.20" y2="747.22" stroke="#1c1c1c" stroke-width="2.3" stroke-linecap="butt"/>
<circle cx="156.48" cy="745.55" r="5.2" fill="#1c1c1c"/>
<line x1="164.16" y1="749.73" x2="164.16" y2="766.45" stroke="#1c1c1c" stroke-width="2.3" stroke-linecap="butt"/>
<line x1="158.31" y1="749.73" x2="170.01" y2="749.73" stroke="#1c1c1c" stroke-width="2.3" stroke-linecap="butt"/>
<line x1="158.31" y1="766.45" x2="170.01" y2="766.45" stroke="#1c1c1c" stroke-width="2.3" stroke-linecap="butt"/>
<circle cx="164.16" cy="758.09" r="5.2" fill="#1c1c1c"/>
<line x1="171.84" y1="748.90" x2="171.84" y2="761.44" stroke="#1c1c1c" stroke-width="2.3" stroke-linecap="butt"/>
<line x1="165.99" y1="748.90" x2="177.69" y2="748.90" stroke="#1c1c1c" stroke-width="2.3" stroke-linecap="butt"/>
<line x1="165.99" y1="761.44" x2="177.69" y2="761.44" stroke="#1c1c1c" stroke-width="2.3" stroke-linecap="butt"/>
<circle cx="171.84" cy="755.17" r="5.2" fill="#1c1c1c"/>
<line x1="179.52" y1="748.90" x2="179.52" y2="755.58" stroke="#1c1c1c" stroke-width="2.3" stroke-linecap="butt"/>
<line x1="175.74" y1="748.90" x2="183.30" y2="748.90" stroke="#1c1c1c" stroke-width="2.3" stroke-linecap="butt"/>
<line x1="175.74" y1="755.58" x2="183.30" y2="755.58" stroke="#1c1c1c" stroke-width="2.3" stroke-linecap="butt"/>
<circle cx="179.52" cy="752.24" r="5.2" fill="#1c1c1c"/>
<line x1="187.20" y1="746.81" x2="187.20" y2="751.82" stroke="#1c1c1c" stroke-width="2.3" stroke-linecap="butt"/>
<line x1="182.84" y1="746.81" x2="191.56" y2="746.81" stroke="#1c1c1c" stroke-width="2.3" stroke-linecap="butt"/>
<line x1="182.84" y1="751.82" x2="191.56" y2="751.82" stroke="#1c1c1c" stroke-width="2.3" stroke-linecap="butt"/>
<circle cx="187.20" cy="749.31" r="5.2" fill="#1c1c1c"/>
<line x1="194.88" y1="750.57" x2="194.88" y2="763.94" stroke="#1c1c1c" stroke-width="2.3" stroke-linecap="butt"/>
<line x1="189.03" y1="750.57" x2="200.73" y2="750.57" stroke="#1c1c1c" stroke-width="2.3" stroke-linecap="butt"/>
<line x1="189.03" y1="763.94" x2="200.73" y2="763.94" stroke="#1c1c1c" stroke-width="2.3" stroke-linecap="butt"/>
<circle cx="194.88" cy="757.26" r="5.2" fill="#1c1c1c"/>
<line x1="202.56" y1="746.81" x2="202.56" y2="751.82" stroke="#1c1c1c" stroke-width="2.3" stroke-linecap="butt"/>
<line x1="198.20" y1="746.81" x2="206.92" y2="746.81" stroke="#1c1c1c" stroke-width="2.3" stroke-linecap="butt"/>
<line x1="198.20" y1="751.82" x2="206.92" y2="751.82" stroke="#1c1c1c" stroke-width="2.3" stroke-linecap="butt"/>
<circle cx="202.56" cy="749.31" r="5.2" fill="#1c1c1c"/>
<line x1="210.24" y1="747.64" x2="210.24" y2="752.66" stroke="#1c1c1c" stroke-width="2.3" stroke-linecap="butt"/>
<line x1="205.88" y1="747.64" x2="214.60" y2="747.64" stroke="#1c1c1c" stroke-width="2.3" stroke-linecap="butt"/>
<line x1="205.88" y1="752.66" x2="214.60" y2="752.66" stroke="#1c1c1c" stroke-width="2.3" stroke-linecap="butt"/>
<circle cx="210.24" cy="750.15" r="5.2" fill="#1c1c1c"/>
<line x1="217.92" y1="749.52" x2="217.92" y2="757.88" stroke="#1c1c1c" stroke-width="2.3" stroke-linecap="butt"/>
<line x1="212.07" y1="749.52" x2="223.77" y2="749.52" stroke="#1c1c1c" stroke-width="2.3" stroke-linecap="butt"/>
<line x1="212.07" y1="757.88" x2="223.77" y2="757.88" stroke="#1c1c1c" stroke-width="2.3" stroke-linecap="butt"/>
<circle cx="217.92" cy="753.70" r="5.2" fill="#1c1c1c"/>
<line x1="225.60" y1="754.33" x2="225.60" y2="779.41" stroke="#1c1c1c" stroke-width="2.3" stroke-linecap="butt"/>
<line x1="219.75" y1="754.33" x2="231.45" y2="754.33" stroke="#1c1c1c" stroke-width="2.3" stroke-linecap="butt"/>
<line x1="219.75" y1="779.41" x2="231.45" y2="779.41" stroke="#1c1c1c" stroke-width="2.3" stroke-linecap="butt"/>
<circle cx="225.60" cy="766.87" r="5.2" fill="#1c1c1c"/>
<line x1="233.28" y1="750.57" x2="233.28" y2="762.27" stroke="#1c1c1c" stroke-width="2.3" stroke-linecap="butt"/>
<line x1="227.43" y1="750.57" x2="239.13" y2="750.57" stroke="#1c1c1c" stroke-width="2.3" stroke-linecap="butt"/>
<line x1="227.43" y1="762.27" x2="239.13" y2="762.27" stroke="#1c1c1c" stroke-width="2.3" stroke-linecap="butt"/>
<circle cx="233.28" cy="756.42" r="5.2" fill="#1c1c1c"/>
<line x1="240.96" y1="746.39" x2="240.96" y2="750.57" stroke="#1c1c1c" stroke-width="2.3" stroke-linecap="butt"/>
<line x1="236.40" y1="746.39" x2="245.52" y2="746.39" stroke="#1c1c1c" stroke-width="2.3" stroke-linecap="butt"/>
<line x1="236.40" y1="750.57" x2="245.52" y2="750.57" stroke="#1c1c1c" stroke-width="2.3" stroke-linecap="butt"/>
<circle cx="240.96" cy="748.48" r="5.2" fill="#1c1c1c"/>
<line x1="248.64" y1="747.22" x2="248.64" y2="751.40" stroke="#1c1c1c" stroke-width="2.3" stroke-linecap="butt"/>
<line x1="244.08" y1="747.22" x2="253.20" y2="747.22" stroke="#1c1c1c" stroke-width="2.3" stroke-linecap="butt"/>
<line x1="244.08" y1="751.40" x2="253.20" y2="751.40" stroke="#1c1c1c" stroke-width="2.3" stroke-linecap="butt"/>
<circle cx="248.64" cy="749.31" r="5.2" fill="#1c1c1c"/>
<line x1="256.32" y1="752.24" x2="256.32" y2="770.63" stroke="#1c1c1c" stroke-width="2.3" stroke-linecap="butt"/>
<line x1="250.47" y1="752.24" x2="262.17" y2="752.24" stroke="#1c1c1c" stroke-width="2.3" stroke-linecap="butt"/>
<line x1="250.47" y1="770.63" x2="262.17" y2="770.63" stroke="#1c1c1c" stroke-width="2.3" stroke-linecap="butt"/>
<circle cx="256.32" cy="761.44" r="5.2" fill="#1c1c1c"/>
<line x1="264.00" y1="748.48" x2="264.00" y2="760.18" stroke="#1c1c1c" stroke-width="2.3" stroke-linecap="butt"/>
<line x1="258.15" y1="748.48" x2="269.85" y2="748.48" stroke="#1c1c1c" stroke-width="2.3" stroke-linecap="butt"/>
<line x1="258.15" y1="760.18" x2="269.85" y2="760.18" stroke="#1c1c1c" stroke-width="2.3" stroke-linecap="butt"/>
<circle cx="264.00" cy="754.33" r="5.2" fill="#1c1c1c"/>
<line x1="271.68" y1="749.31" x2="271.68" y2="761.02" stroke="#1c1c1c" stroke-width="2.3" stroke-linecap="butt"/>
<line x1="265.83" y1="749.31" x2="277.53" y2="749.31" stroke="#1c1c1c" stroke-width="2.3" stroke-linecap="butt"/>
<line x1="265.83" y1="761.02" x2="277.53" y2="761.02" stroke="#1c1c1c" stroke-width="2.3" stroke-linecap="butt"/>
<circle cx="271.68" cy="755.17" r="5.2" fill="#1c1c1c"/>
<line x1="279.36" y1="745.55" x2="279.36" y2="749.73" stroke="#1c1c1c" stroke-width="2.3" stroke-linecap="butt"/>
<line x1="274.80" y1="745.55" x2="283.92" y2="745.55" stroke="#1c1c1c" stroke-width="2.3" stroke-linecap="butt"/>
<line x1="274.80" y1="749.73" x2="283.92" y2="749.73" stroke="#1c1c1c" stroke-width="2.3" stroke-linecap="butt"/>
<circle cx="279.36" cy="747.64" r="5.2" fill="#1c1c1c"/>
<line x1="287.04" y1="748.06" x2="287.04" y2="753.08" stroke="#1c1c1c" stroke-width="2.3" stroke-linecap="butt"/>
<line x1="282.68" y1="748.06" x2="291.40" y2="748.06" stroke="#1c1c1c" stroke-width="2.3" stroke-linecap="butt"/>
<line x1="282.68" y1="753.08" x2="291.40" y2="753.08" stroke="#1c1c1c" stroke-width="2.3" stroke-linecap="butt"/>
<circle cx="287.04" cy="750.57" r="5.2" fill="#1c1c1c"/>
<line x1="294.72" y1="745.13" x2="294.72" y2="748.48" stroke="#1c1c1c" stroke-width="2.3" stroke-linecap="butt"/>
<line x1="290.00" y1="745.13" x2="299.44" y2="745.13" stroke="#1c1c1c" stroke-width="2.3" stroke-linecap="butt"/>
<line x1="290.00" y1="748.48" x2="299.44" y2="748.48" stroke="#1c1c1c" stroke-width="2.3" stroke-linecap="butt"/>
<circle cx="294.72" cy="746.81" r="5.2" fill="#1c1c1c"/>
<line x1="317.40" y1="749.73" x2="317.40" y2="760.60" stroke="#1c1c1c" stroke-width="2.3" stroke-linecap="butt"/>
<line x1="311.55" y1="749.73" x2="323.25" y2="749.73" stroke="#1c1c1c" stroke-width="2.3" stroke-linecap="butt"/>
<line x1="311.55" y1="760.60" x2="323.25" y2="760.60" stroke="#1c1c1c" stroke-width="2.3" stroke-linecap="butt"/>
<circle cx="317.40" cy="755.17" r="5.2" fill="#1c1c1c"/>
<circle cx="256.90" cy="865.60" r="5.0" fill="#fff" stroke="#1c1c1c" stroke-width="2.4"/>
<circle cx="256.90" cy="884.50" r="5.2" fill="#1c1c1c"/>
<text x="276.30" y="869.80" font-size="13.5" font-weight="normal" text-anchor="start">Sal IntS</text>
<text x="276.30" y="889.30" font-size="13.5" font-weight="normal" text-anchor="start">Coc IntS</text>
<text x="372.60" y="723.50" font-size="19" font-weight="bold" text-anchor="start">F)</text>
<line x1="498.50" y1="762.60" x2="498.50" y2="769.00" stroke="#1c1c1c" stroke-width="2.2" stroke-linecap="butt"/>
<line x1="478.20" y1="762.60" x2="518.80" y2="762.60" stroke="#1c1c1c" stroke-width="2.2" stroke-linecap="round"/>
<rect x="458.00" y="768.00" width="81.90" height="133.50" fill="#fff" stroke="#1c1c1c" stroke-width="2.0"/>
<line x1="621.50" y1="757.90" x2="621.50" y2="760.00" stroke="#1c1c1c" stroke-width="2.2" stroke-linecap="butt"/>
<line x1="601.20" y1="757.90" x2="641.80" y2="757.90" stroke="#1c1c1c" stroke-width="2.2" stroke-linecap="round"/>
<rect x="579.80" y="758.40" width="83.50" height="143.10" fill="#1c1c1c"/>
<line x1="437.50" y1="737.43" x2="437.50" y2="902.27" stroke="#1c1c1c" stroke-width="1.55" stroke-linecap="butt"/>
<line x1="431.90" y1="901.50" x2="684.50" y2="901.50" stroke="#1c1c1c" stroke-width="1.55" stroke-linecap="butt"/>
<line x1="431.90" y1="901.50" x2="437.50" y2="901.50" stroke="#1c1c1c" stroke-width="1.55" stroke-linecap="butt"/>
<text x="430.90" y="905.70" font-size="11.8" font-weight="bold" text-anchor="end">0</text>
<line x1="431.90" y1="826.92" x2="437.50" y2="826.92" stroke="#1c1c1c" stroke-width="1.55" stroke-linecap="butt"/>
<text x="430.90" y="831.12" font-size="11.8" font-weight="bold" text-anchor="end">50</text>
<line x1="431.90" y1="752.35" x2="437.50" y2="752.35" stroke="#1c1c1c" stroke-width="1.55" stroke-linecap="butt"/>
<text x="430.90" y="756.55" font-size="11.8" font-weight="bold" text-anchor="end">100</text>
<line x1="499.30" y1="901.50" x2="499.30" y2="906.50" stroke="#1c1c1c" stroke-width="1.55" stroke-linecap="butt"/>
<text x="502.70" y="918.10" font-size="12.4" font-weight="bold" text-anchor="end" transform="rotate(-45 502.70 918.10)">Sal</text>
<line x1="621.10" y1="901.50" x2="621.10" y2="906.50" stroke="#1c1c1c" stroke-width="1.55" stroke-linecap="butt"/>
<text x="624.50" y="918.10" font-size="12.4" font-weight="bold" text-anchor="end" transform="rotate(-45 624.50 918.10)">Coc</text>
<text x="382.00" y="819.50" font-size="13.7" font-weight="bold" text-anchor="middle" transform="rotate(-90 382.00 819.50)">Average</text>
<text x="399.30" y="819.20" font-size="13.55" font-weight="bold" text-anchor="middle" transform="rotate(-90 399.30 819.20)">Sucrose Preference (%<tspan dx="1.6">)</tspan></text>
</svg>
</body></html>
